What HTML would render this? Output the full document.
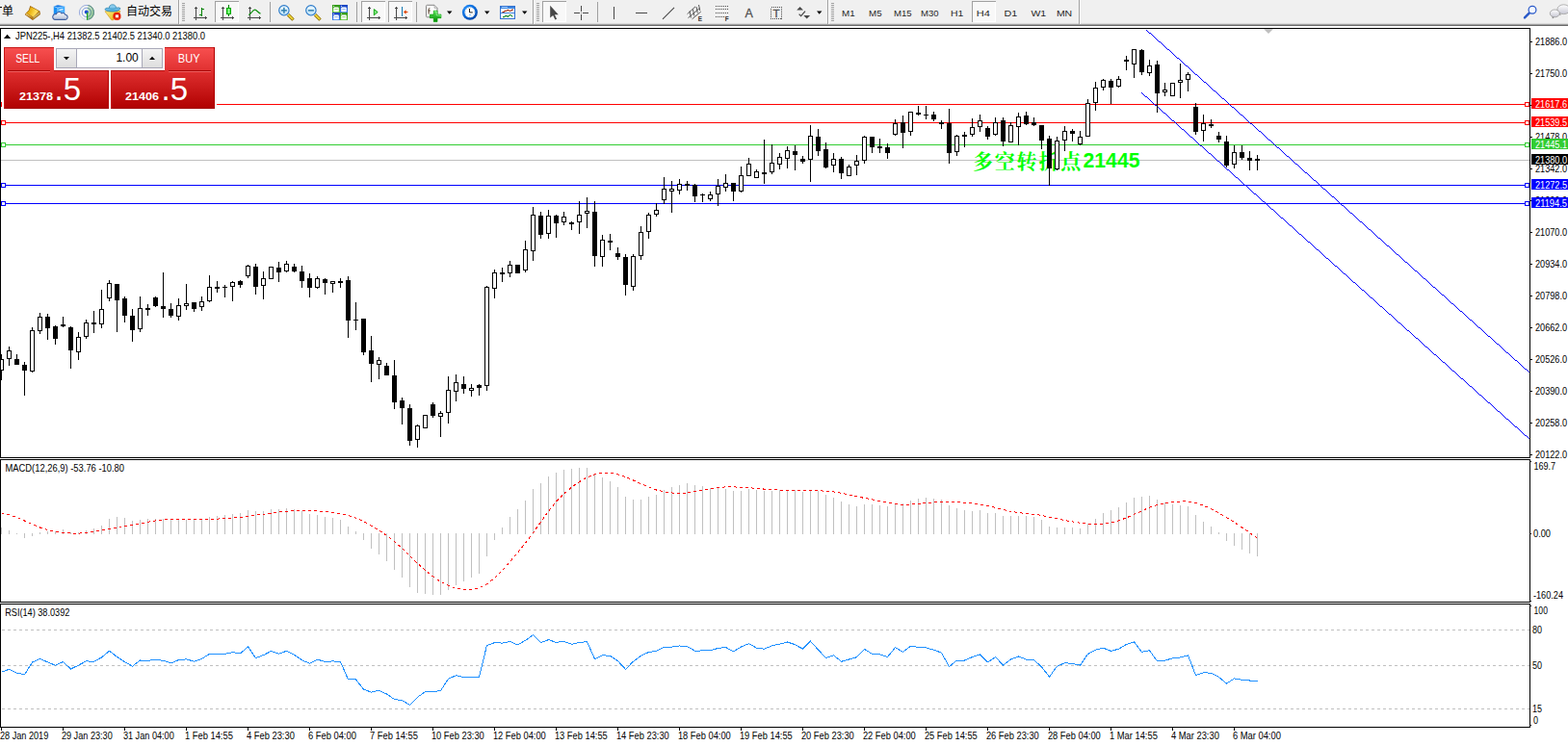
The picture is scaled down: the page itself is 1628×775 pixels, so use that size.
<!DOCTYPE html><html><head><meta charset="utf-8"><title>JPN225 H4</title><style>html,body{margin:0;padding:0;background:#fff;overflow:hidden}svg{display:block}text{white-space:pre}</style></head><body>
<svg width="1628" height="775" viewBox="0 0 1628 775" font-family="Liberation Sans, sans-serif">
<rect x="0" y="0" width="1628" height="775" fill="#fff" />
<g shape-rendering="crispEdges">
<rect x="0" y="27" width="1628" height="748" fill="#fff" />
<rect x="1" y="108" width="1587" height="1" fill="#ff0000" />
<rect x="1" y="127" width="1587" height="1" fill="#ff0000" />
<rect x="1" y="150" width="1587" height="1" fill="#32cd32" />
<rect x="1" y="166" width="1587" height="1" fill="#c0c0c0" />
<rect x="1" y="192" width="1587" height="1" fill="#0000ff" />
<rect x="1" y="211" width="1587" height="1" fill="#0000ff" />
<rect x="1.5" y="106.5" width="4" height="4" fill="#fff" stroke="#ff0000" stroke-width="1"/>
<rect x="1583.5" y="106.5" width="4" height="4" fill="#fff" stroke="#ff0000" stroke-width="1"/>
<rect x="1.5" y="125.5" width="4" height="4" fill="#fff" stroke="#ff0000" stroke-width="1"/>
<rect x="1583.5" y="125.5" width="4" height="4" fill="#fff" stroke="#ff0000" stroke-width="1"/>
<rect x="1.5" y="148.5" width="4" height="4" fill="#fff" stroke="#32cd32" stroke-width="1"/>
<rect x="1583.5" y="148.5" width="4" height="4" fill="#fff" stroke="#32cd32" stroke-width="1"/>
<rect x="1.5" y="190.5" width="4" height="4" fill="#fff" stroke="#0000ff" stroke-width="1"/>
<rect x="1583.5" y="190.5" width="4" height="4" fill="#fff" stroke="#0000ff" stroke-width="1"/>
<rect x="1.5" y="209.5" width="4" height="4" fill="#fff" stroke="#0000ff" stroke-width="1"/>
<rect x="1583.5" y="209.5" width="4" height="4" fill="#fff" stroke="#0000ff" stroke-width="1"/>
<path d="M1190 31.5h1M1191 32.5h1M1192 33.5h1M1193 34.5h2M1195 35.5h1M1196 36.5h1M1197 37.5h1M1198 38.5h1M1199 39.5h1M1200 40.5h1M1201 41.5h1M1202 42.5h1M1203 43.5h2M1205 44.5h1M1206 45.5h1M1207 46.5h1M1208 47.5h1M1209 48.5h1M1210 49.5h1M1211 50.5h1M1212 51.5h2M1214 52.5h1M1215 53.5h1M1216 54.5h1M1217 55.5h1M1218 56.5h1M1219 57.5h1M1220 58.5h1M1221 59.5h1M1222 60.5h2M1224 61.5h1M1225 62.5h1M1226 63.5h1M1227 64.5h1M1228 65.5h1M1229 66.5h1M1230 67.5h1M1231 68.5h2M1233 69.5h1M1234 70.5h1M1235 71.5h1M1236 72.5h1M1237 73.5h1M1238 74.5h1M1239 75.5h1M1240 76.5h1M1241 77.5h2M1243 78.5h1M1244 79.5h1M1245 80.5h1M1246 81.5h1M1247 82.5h1M1248 83.5h1M1249 84.5h1M1250 85.5h2M1252 86.5h1M1253 87.5h1M1254 88.5h1M1255 89.5h1M1256 90.5h1M1257 91.5h1M1258 92.5h1M1259 93.5h1M1260 94.5h2M1262 95.5h1M1263 96.5h1M1264 97.5h1M1265 98.5h1M1266 99.5h1M1267 100.5h1M1268 101.5h1M1269 102.5h2M1271 103.5h1M1272 104.5h1M1273 105.5h1M1274 106.5h1M1275 107.5h1M1276 108.5h1M1277 109.5h1M1278 110.5h1M1279 111.5h2M1281 112.5h1M1282 113.5h1M1283 114.5h1M1284 115.5h1M1285 116.5h1M1286 117.5h1M1287 118.5h1M1288 119.5h2M1290 120.5h1M1291 121.5h1M1292 122.5h1M1293 123.5h1M1294 124.5h1M1295 125.5h1M1296 126.5h1M1297 127.5h1M1298 128.5h2M1300 129.5h1M1301 130.5h1M1302 131.5h1M1303 132.5h1M1304 133.5h1M1305 134.5h1M1306 135.5h1M1307 136.5h2M1309 137.5h1M1310 138.5h1M1311 139.5h1M1312 140.5h1M1313 141.5h1M1314 142.5h1M1315 143.5h1M1316 144.5h1M1317 145.5h2M1319 146.5h1M1320 147.5h1M1321 148.5h1M1322 149.5h1M1323 150.5h1M1324 151.5h1M1325 152.5h1M1326 153.5h2M1328 154.5h1M1329 155.5h1M1330 156.5h1M1331 157.5h1M1332 158.5h1M1333 159.5h1M1334 160.5h1M1335 161.5h1M1336 162.5h2M1338 163.5h1M1339 164.5h1M1340 165.5h1M1341 166.5h1M1342 167.5h1M1343 168.5h1M1344 169.5h1M1345 170.5h2M1347 171.5h1M1348 172.5h1M1349 173.5h1M1350 174.5h1M1351 175.5h1M1352 176.5h1M1353 177.5h1M1354 178.5h1M1355 179.5h2M1357 180.5h1M1358 181.5h1M1359 182.5h1M1360 183.5h1M1361 184.5h1M1362 185.5h1M1363 186.5h1M1364 187.5h2M1366 188.5h1M1367 189.5h1M1368 190.5h1M1369 191.5h1M1370 192.5h1M1371 193.5h1M1372 194.5h1M1373 195.5h1M1374 196.5h2M1376 197.5h1M1377 198.5h1M1378 199.5h1M1379 200.5h1M1380 201.5h1M1381 202.5h1M1382 203.5h1M1383 204.5h2M1385 205.5h1M1386 206.5h1M1387 207.5h1M1388 208.5h1M1389 209.5h1M1390 210.5h1M1391 211.5h1M1392 212.5h1M1393 213.5h2M1395 214.5h1M1396 215.5h1M1397 216.5h1M1398 217.5h1M1399 218.5h1M1400 219.5h1M1401 220.5h1M1402 221.5h2M1404 222.5h1M1405 223.5h1M1406 224.5h1M1407 225.5h1M1408 226.5h1M1409 227.5h1M1410 228.5h1M1411 229.5h1M1412 230.5h2M1414 231.5h1M1415 232.5h1M1416 233.5h1M1417 234.5h1M1418 235.5h1M1419 236.5h1M1420 237.5h1M1421 238.5h2M1423 239.5h1M1424 240.5h1M1425 241.5h1M1426 242.5h1M1427 243.5h1M1428 244.5h1M1429 245.5h1M1430 246.5h1M1431 247.5h2M1433 248.5h1M1434 249.5h1M1435 250.5h1M1436 251.5h1M1437 252.5h1M1438 253.5h1M1439 254.5h1M1440 255.5h2M1442 256.5h1M1443 257.5h1M1444 258.5h1M1445 259.5h1M1446 260.5h1M1447 261.5h1M1448 262.5h1M1449 263.5h1M1450 264.5h2M1452 265.5h1M1453 266.5h1M1454 267.5h1M1455 268.5h1M1456 269.5h1M1457 270.5h1M1458 271.5h1M1459 272.5h2M1461 273.5h1M1462 274.5h1M1463 275.5h1M1464 276.5h1M1465 277.5h1M1466 278.5h1M1467 279.5h1M1468 280.5h1M1469 281.5h2M1471 282.5h1M1472 283.5h1M1473 284.5h1M1474 285.5h1M1475 286.5h1M1476 287.5h1M1477 288.5h1M1478 289.5h2M1480 290.5h1M1481 291.5h1M1482 292.5h1M1483 293.5h1M1484 294.5h1M1485 295.5h1M1486 296.5h1M1487 297.5h1M1488 298.5h2M1490 299.5h1M1491 300.5h1M1492 301.5h1M1493 302.5h1M1494 303.5h1M1495 304.5h1M1496 305.5h1M1497 306.5h2M1499 307.5h1M1500 308.5h1M1501 309.5h1M1502 310.5h1M1503 311.5h1M1504 312.5h1M1505 313.5h1M1506 314.5h1M1507 315.5h2M1509 316.5h1M1510 317.5h1M1511 318.5h1M1512 319.5h1M1513 320.5h1M1514 321.5h1M1515 322.5h1M1516 323.5h2M1518 324.5h1M1519 325.5h1M1520 326.5h1M1521 327.5h1M1522 328.5h1M1523 329.5h1M1524 330.5h1M1525 331.5h1M1526 332.5h2M1528 333.5h1M1529 334.5h1M1530 335.5h1M1531 336.5h1M1532 337.5h1M1533 338.5h1M1534 339.5h1M1535 340.5h2M1537 341.5h1M1538 342.5h1M1539 343.5h1M1540 344.5h1M1541 345.5h1M1542 346.5h1M1543 347.5h1M1544 348.5h1M1545 349.5h2M1547 350.5h1M1548 351.5h1M1549 352.5h1M1550 353.5h1M1551 354.5h1M1552 355.5h1M1553 356.5h1M1554 357.5h2M1556 358.5h1M1557 359.5h1M1558 360.5h1M1559 361.5h1M1560 362.5h1M1561 363.5h1M1562 364.5h1M1563 365.5h1M1564 366.5h2M1566 367.5h1M1567 368.5h1M1568 369.5h1M1569 370.5h1M1570 371.5h1M1571 372.5h1M1572 373.5h1M1573 374.5h2M1575 375.5h1M1576 376.5h1M1577 377.5h1M1578 378.5h1M1579 379.5h1M1580 380.5h1M1581 381.5h1M1582 382.5h1M1583 383.5h2M1585 384.5h1M1586 385.5h1M1587 386.5h1M1185 96.5h1M1186 97.5h1M1187 98.5h1M1188 99.5h1M1189 100.5h2M1191 101.5h1M1192 102.5h1M1193 103.5h1M1194 104.5h1M1195 105.5h1M1196 106.5h1M1197 107.5h1M1198 108.5h1M1199 109.5h2M1201 110.5h1M1202 111.5h1M1203 112.5h1M1204 113.5h1M1205 114.5h1M1206 115.5h1M1207 116.5h1M1208 117.5h2M1210 118.5h1M1211 119.5h1M1212 120.5h1M1213 121.5h1M1214 122.5h1M1215 123.5h1M1216 124.5h1M1217 125.5h2M1219 126.5h1M1220 127.5h1M1221 128.5h1M1222 129.5h1M1223 130.5h1M1224 131.5h1M1225 132.5h1M1226 133.5h1M1227 134.5h2M1229 135.5h1M1230 136.5h1M1231 137.5h1M1232 138.5h1M1233 139.5h1M1234 140.5h1M1235 141.5h1M1236 142.5h2M1238 143.5h1M1239 144.5h1M1240 145.5h1M1241 146.5h1M1242 147.5h1M1243 148.5h1M1244 149.5h1M1245 150.5h1M1246 151.5h2M1248 152.5h1M1249 153.5h1M1250 154.5h1M1251 155.5h1M1252 156.5h1M1253 157.5h1M1254 158.5h1M1255 159.5h2M1257 160.5h1M1258 161.5h1M1259 162.5h1M1260 163.5h1M1261 164.5h1M1262 165.5h1M1263 166.5h1M1264 167.5h2M1266 168.5h1M1267 169.5h1M1268 170.5h1M1269 171.5h1M1270 172.5h1M1271 173.5h1M1272 174.5h1M1273 175.5h1M1274 176.5h2M1276 177.5h1M1277 178.5h1M1278 179.5h1M1279 180.5h1M1280 181.5h1M1281 182.5h1M1282 183.5h1M1283 184.5h2M1285 185.5h1M1286 186.5h1M1287 187.5h1M1288 188.5h1M1289 189.5h1M1290 190.5h1M1291 191.5h1M1292 192.5h2M1294 193.5h1M1295 194.5h1M1296 195.5h1M1297 196.5h1M1298 197.5h1M1299 198.5h1M1300 199.5h1M1301 200.5h1M1302 201.5h2M1304 202.5h1M1305 203.5h1M1306 204.5h1M1307 205.5h1M1308 206.5h1M1309 207.5h1M1310 208.5h1M1311 209.5h2M1313 210.5h1M1314 211.5h1M1315 212.5h1M1316 213.5h1M1317 214.5h1M1318 215.5h1M1319 216.5h1M1320 217.5h2M1322 218.5h1M1323 219.5h1M1324 220.5h1M1325 221.5h1M1326 222.5h1M1327 223.5h1M1328 224.5h1M1329 225.5h1M1330 226.5h2M1332 227.5h1M1333 228.5h1M1334 229.5h1M1335 230.5h1M1336 231.5h1M1337 232.5h1M1338 233.5h1M1339 234.5h2M1341 235.5h1M1342 236.5h1M1343 237.5h1M1344 238.5h1M1345 239.5h1M1346 240.5h1M1347 241.5h1M1348 242.5h1M1349 243.5h2M1351 244.5h1M1352 245.5h1M1353 246.5h1M1354 247.5h1M1355 248.5h1M1356 249.5h1M1357 250.5h1M1358 251.5h2M1360 252.5h1M1361 253.5h1M1362 254.5h1M1363 255.5h1M1364 256.5h1M1365 257.5h1M1366 258.5h1M1367 259.5h2M1369 260.5h1M1370 261.5h1M1371 262.5h1M1372 263.5h1M1373 264.5h1M1374 265.5h1M1375 266.5h1M1376 267.5h1M1377 268.5h2M1379 269.5h1M1380 270.5h1M1381 271.5h1M1382 272.5h1M1383 273.5h1M1384 274.5h1M1385 275.5h1M1386 276.5h2M1388 277.5h1M1389 278.5h1M1390 279.5h1M1391 280.5h1M1392 281.5h1M1393 282.5h1M1394 283.5h1M1395 284.5h2M1397 285.5h1M1398 286.5h1M1399 287.5h1M1400 288.5h1M1401 289.5h1M1402 290.5h1M1403 291.5h1M1404 292.5h1M1405 293.5h2M1407 294.5h1M1408 295.5h1M1409 296.5h1M1410 297.5h1M1411 298.5h1M1412 299.5h1M1413 300.5h1M1414 301.5h2M1416 302.5h1M1417 303.5h1M1418 304.5h1M1419 305.5h1M1420 306.5h1M1421 307.5h1M1422 308.5h1M1423 309.5h2M1425 310.5h1M1426 311.5h1M1427 312.5h1M1428 313.5h1M1429 314.5h1M1430 315.5h1M1431 316.5h1M1432 317.5h1M1433 318.5h2M1435 319.5h1M1436 320.5h1M1437 321.5h1M1438 322.5h1M1439 323.5h1M1440 324.5h1M1441 325.5h1M1442 326.5h2M1444 327.5h1M1445 328.5h1M1446 329.5h1M1447 330.5h1M1448 331.5h1M1449 332.5h1M1450 333.5h1M1451 334.5h1M1452 335.5h2M1454 336.5h1M1455 337.5h1M1456 338.5h1M1457 339.5h1M1458 340.5h1M1459 341.5h1M1460 342.5h1M1461 343.5h2M1463 344.5h1M1464 345.5h1M1465 346.5h1M1466 347.5h1M1467 348.5h1M1468 349.5h1M1469 350.5h1M1470 351.5h2M1472 352.5h1M1473 353.5h1M1474 354.5h1M1475 355.5h1M1476 356.5h1M1477 357.5h1M1478 358.5h1M1479 359.5h1M1480 360.5h2M1482 361.5h1M1483 362.5h1M1484 363.5h1M1485 364.5h1M1486 365.5h1M1487 366.5h1M1488 367.5h1M1489 368.5h2M1491 369.5h1M1492 370.5h1M1493 371.5h1M1494 372.5h1M1495 373.5h1M1496 374.5h1M1497 375.5h1M1498 376.5h2M1500 377.5h1M1501 378.5h1M1502 379.5h1M1503 380.5h1M1504 381.5h1M1505 382.5h1M1506 383.5h1M1507 384.5h1M1508 385.5h2M1510 386.5h1M1511 387.5h1M1512 388.5h1M1513 389.5h1M1514 390.5h1M1515 391.5h1M1516 392.5h1M1517 393.5h2M1519 394.5h1M1520 395.5h1M1521 396.5h1M1522 397.5h1M1523 398.5h1M1524 399.5h1M1525 400.5h1M1526 401.5h2M1528 402.5h1M1529 403.5h1M1530 404.5h1M1531 405.5h1M1532 406.5h1M1533 407.5h1M1534 408.5h1M1535 409.5h1M1536 410.5h2M1538 411.5h1M1539 412.5h1M1540 413.5h1M1541 414.5h1M1542 415.5h1M1543 416.5h1M1544 417.5h1M1545 418.5h2M1547 419.5h1M1548 420.5h1M1549 421.5h1M1550 422.5h1M1551 423.5h1M1552 424.5h1M1553 425.5h1M1554 426.5h1M1555 427.5h2M1557 428.5h1M1558 429.5h1M1559 430.5h1M1560 431.5h1M1561 432.5h1M1562 433.5h1M1563 434.5h1M1564 435.5h2M1566 436.5h1M1567 437.5h1M1568 438.5h1M1569 439.5h1M1570 440.5h1M1571 441.5h1M1572 442.5h1M1573 443.5h2M1575 444.5h1M1576 445.5h1M1577 446.5h1M1578 447.5h1M1579 448.5h1M1580 449.5h1M1581 450.5h1M1582 451.5h1M1583 452.5h2M1585 453.5h1M1586 454.5h1M1587 455.5h1" stroke="#0000ff" stroke-width="1" fill="none"/>
<path d="M1312 30H1322L1317 35Z" fill="#c0c0c0" shape-rendering="auto"/>
</g>
<text x="1009.9" y="174.6" font-size="21" font-weight="bold" fill="#00ff00" font-family="Liberation Serif, Noto Serif CJK SC, serif" textLength="112.3" lengthAdjust="spacing">多空转折点</text>
<text x="1124.5" y="174" font-size="21.7" font-weight="bold" fill="#00ff00" font-family="Liberation Sans, sans-serif" textLength="59" lengthAdjust="spacingAndGlyphs">21445</text>
<g shape-rendering="crispEdges">
<rect x="1" y="368" width="1" height="27" fill="#000" />
<rect x="1" y="373" width="3" height="12" fill="#000" />
<rect x="1" y="374" width="2" height="10" fill="#fff" />
<rect x="9" y="360" width="1" height="20" fill="#000" />
<rect x="7" y="364" width="5" height="9" fill="#000" />
<rect x="8" y="365" width="3" height="7" fill="#fff" />
<rect x="17" y="368" width="1" height="11" fill="#000" />
<rect x="15" y="373" width="5" height="6" fill="#000" />
<rect x="25" y="376" width="1" height="35" fill="#000" />
<rect x="23" y="379" width="5" height="6" fill="#000" />
<rect x="33" y="340" width="1" height="47" fill="#000" />
<rect x="31" y="343" width="5" height="43" fill="#000" />
<rect x="32" y="344" width="3" height="41" fill="#fff" />
<rect x="41" y="325" width="1" height="22" fill="#000" />
<rect x="39" y="329" width="5" height="15" fill="#000" />
<rect x="40" y="330" width="3" height="13" fill="#fff" />
<rect x="49" y="326" width="1" height="27" fill="#000" />
<rect x="47" y="329" width="5" height="12" fill="#000" />
<rect x="57" y="338" width="1" height="20" fill="#000" />
<rect x="55" y="339" width="5" height="13" fill="#000" />
<rect x="65" y="329" width="1" height="11" fill="#000" />
<rect x="63" y="337" width="5" height="2" fill="#000" />
<rect x="73" y="339" width="1" height="44" fill="#000" />
<rect x="71" y="340" width="5" height="24" fill="#000" />
<rect x="81" y="345" width="1" height="29" fill="#000" />
<rect x="79" y="350" width="5" height="16" fill="#000" />
<rect x="80" y="351" width="3" height="14" fill="#fff" />
<rect x="89" y="332" width="1" height="20" fill="#000" />
<rect x="87" y="335" width="5" height="15" fill="#000" />
<rect x="88" y="336" width="3" height="13" fill="#fff" />
<rect x="97" y="323" width="1" height="23" fill="#000" />
<rect x="95" y="335" width="5" height="2" fill="#000" />
<rect x="105" y="301" width="1" height="40" fill="#000" />
<rect x="103" y="321" width="5" height="16" fill="#000" />
<rect x="104" y="322" width="3" height="14" fill="#fff" />
<rect x="113" y="291" width="1" height="22" fill="#000" />
<rect x="111" y="294" width="5" height="16" fill="#000" />
<rect x="112" y="295" width="3" height="14" fill="#fff" />
<rect x="121" y="295" width="1" height="50" fill="#000" />
<rect x="119" y="295" width="5" height="17" fill="#000" />
<rect x="129" y="308" width="1" height="27" fill="#000" />
<rect x="127" y="310" width="5" height="18" fill="#000" />
<rect x="137" y="321" width="1" height="34" fill="#000" />
<rect x="135" y="328" width="5" height="15" fill="#000" />
<rect x="145" y="308" width="1" height="37" fill="#000" />
<rect x="143" y="320" width="5" height="22" fill="#000" />
<rect x="144" y="321" width="3" height="20" fill="#fff" />
<rect x="153" y="316" width="1" height="12" fill="#000" />
<rect x="151" y="320" width="5" height="2" fill="#000" />
<rect x="161" y="308" width="1" height="11" fill="#000" />
<rect x="159" y="309" width="5" height="9" fill="#000" />
<rect x="169" y="283" width="1" height="47" fill="#000" />
<rect x="167" y="318" width="5" height="3" fill="#000" />
<rect x="177" y="315" width="1" height="15" fill="#000" />
<rect x="175" y="321" width="5" height="7" fill="#000" />
<rect x="185" y="310" width="1" height="23" fill="#000" />
<rect x="183" y="317" width="5" height="12" fill="#000" />
<rect x="184" y="318" width="3" height="10" fill="#fff" />
<rect x="193" y="295" width="1" height="27" fill="#000" />
<rect x="191" y="315" width="5" height="3" fill="#000" />
<rect x="192" y="316" width="3" height="1" fill="#fff" />
<rect x="201" y="314" width="1" height="10" fill="#000" />
<rect x="199" y="314" width="5" height="7" fill="#000" />
<rect x="209" y="308" width="1" height="15" fill="#000" />
<rect x="207" y="313" width="5" height="6" fill="#000" />
<rect x="208" y="314" width="3" height="4" fill="#fff" />
<rect x="217" y="286" width="1" height="28" fill="#000" />
<rect x="215" y="298" width="5" height="15" fill="#000" />
<rect x="216" y="299" width="3" height="13" fill="#fff" />
<rect x="225" y="292" width="1" height="12" fill="#000" />
<rect x="223" y="298" width="5" height="2" fill="#000" />
<rect x="233" y="296" width="1" height="13" fill="#000" />
<rect x="231" y="298" width="5" height="1" fill="#000" />
<rect x="241" y="292" width="1" height="21" fill="#000" />
<rect x="239" y="293" width="5" height="5" fill="#000" />
<rect x="240" y="294" width="3" height="3" fill="#fff" />
<rect x="249" y="291" width="1" height="8" fill="#000" />
<rect x="247" y="292" width="5" height="4" fill="#000" />
<rect x="257" y="275" width="1" height="14" fill="#000" />
<rect x="255" y="276" width="5" height="11" fill="#000" />
<rect x="256" y="277" width="3" height="9" fill="#fff" />
<rect x="265" y="274" width="1" height="32" fill="#000" />
<rect x="263" y="277" width="5" height="21" fill="#000" />
<rect x="273" y="282" width="1" height="29" fill="#000" />
<rect x="271" y="289" width="5" height="8" fill="#000" />
<rect x="272" y="290" width="3" height="6" fill="#fff" />
<rect x="281" y="277" width="1" height="13" fill="#000" />
<rect x="279" y="277" width="5" height="13" fill="#000" />
<rect x="280" y="278" width="3" height="11" fill="#fff" />
<rect x="289" y="272" width="1" height="21" fill="#000" />
<rect x="287" y="278" width="5" height="5" fill="#000" />
<rect x="297" y="271" width="1" height="12" fill="#000" />
<rect x="295" y="274" width="5" height="8" fill="#000" />
<rect x="296" y="275" width="3" height="6" fill="#fff" />
<rect x="305" y="274" width="1" height="9" fill="#000" />
<rect x="303" y="277" width="5" height="5" fill="#000" />
<rect x="313" y="276" width="1" height="23" fill="#000" />
<rect x="311" y="282" width="5" height="10" fill="#000" />
<rect x="321" y="284" width="1" height="25" fill="#000" />
<rect x="319" y="289" width="5" height="10" fill="#000" />
<rect x="329" y="287" width="1" height="13" fill="#000" />
<rect x="327" y="289" width="5" height="10" fill="#000" />
<rect x="328" y="290" width="3" height="8" fill="#fff" />
<rect x="337" y="289" width="1" height="17" fill="#000" />
<rect x="335" y="290" width="5" height="4" fill="#000" />
<rect x="345" y="292" width="1" height="12" fill="#000" />
<rect x="343" y="292" width="5" height="3" fill="#000" />
<rect x="344" y="293" width="3" height="1" fill="#fff" />
<rect x="353" y="289" width="1" height="10" fill="#000" />
<rect x="351" y="292" width="5" height="2" fill="#000" />
<rect x="361" y="287" width="1" height="64" fill="#000" />
<rect x="359" y="291" width="5" height="42" fill="#000" />
<rect x="369" y="314" width="1" height="29" fill="#000" />
<rect x="367" y="332" width="5" height="1" fill="#000" />
<rect x="377" y="331" width="1" height="38" fill="#000" />
<rect x="375" y="331" width="5" height="35" fill="#000" />
<rect x="385" y="349" width="1" height="48" fill="#000" />
<rect x="383" y="364" width="5" height="14" fill="#000" />
<rect x="393" y="371" width="1" height="23" fill="#000" />
<rect x="391" y="374" width="5" height="5" fill="#000" />
<rect x="392" y="375" width="3" height="3" fill="#fff" />
<rect x="401" y="377" width="1" height="13" fill="#000" />
<rect x="399" y="380" width="5" height="10" fill="#000" />
<rect x="409" y="374" width="1" height="51" fill="#000" />
<rect x="407" y="390" width="5" height="28" fill="#000" />
<rect x="417" y="413" width="1" height="28" fill="#000" />
<rect x="415" y="416" width="5" height="8" fill="#000" />
<rect x="425" y="420" width="1" height="43" fill="#000" />
<rect x="423" y="424" width="5" height="34" fill="#000" />
<rect x="433" y="441" width="1" height="24" fill="#000" />
<rect x="431" y="442" width="5" height="15" fill="#000" />
<rect x="432" y="443" width="3" height="13" fill="#fff" />
<rect x="441" y="431" width="1" height="14" fill="#000" />
<rect x="439" y="431" width="5" height="14" fill="#000" />
<rect x="440" y="432" width="3" height="12" fill="#fff" />
<rect x="449" y="418" width="1" height="16" fill="#000" />
<rect x="447" y="420" width="5" height="12" fill="#000" />
<rect x="457" y="427" width="1" height="27" fill="#000" />
<rect x="455" y="429" width="5" height="4" fill="#000" />
<rect x="456" y="430" width="3" height="2" fill="#fff" />
<rect x="465" y="391" width="1" height="49" fill="#000" />
<rect x="463" y="405" width="5" height="24" fill="#000" />
<rect x="464" y="406" width="3" height="22" fill="#fff" />
<rect x="473" y="389" width="1" height="28" fill="#000" />
<rect x="471" y="397" width="5" height="10" fill="#000" />
<rect x="472" y="398" width="3" height="8" fill="#fff" />
<rect x="481" y="391" width="1" height="18" fill="#000" />
<rect x="479" y="399" width="5" height="5" fill="#000" />
<rect x="489" y="399" width="1" height="13" fill="#000" />
<rect x="487" y="403" width="5" height="3" fill="#000" />
<rect x="488" y="404" width="3" height="1" fill="#fff" />
<rect x="497" y="399" width="1" height="12" fill="#000" />
<rect x="495" y="400" width="5" height="3" fill="#000" />
<rect x="505" y="297" width="1" height="109" fill="#000" />
<rect x="503" y="298" width="5" height="103" fill="#000" />
<rect x="504" y="299" width="3" height="101" fill="#fff" />
<rect x="513" y="280" width="1" height="30" fill="#000" />
<rect x="511" y="283" width="5" height="17" fill="#000" />
<rect x="512" y="284" width="3" height="15" fill="#fff" />
<rect x="521" y="278" width="1" height="15" fill="#000" />
<rect x="519" y="283" width="5" height="2" fill="#000" />
<rect x="529" y="271" width="1" height="17" fill="#000" />
<rect x="527" y="275" width="5" height="9" fill="#000" />
<rect x="528" y="276" width="3" height="7" fill="#fff" />
<rect x="537" y="275" width="1" height="9" fill="#000" />
<rect x="535" y="275" width="5" height="9" fill="#000" />
<rect x="545" y="250" width="1" height="33" fill="#000" />
<rect x="543" y="259" width="5" height="22" fill="#000" />
<rect x="544" y="260" width="3" height="20" fill="#fff" />
<rect x="553" y="215" width="1" height="56" fill="#000" />
<rect x="551" y="223" width="5" height="38" fill="#000" />
<rect x="552" y="224" width="3" height="36" fill="#fff" />
<rect x="561" y="220" width="1" height="28" fill="#000" />
<rect x="559" y="224" width="5" height="20" fill="#000" />
<rect x="569" y="218" width="1" height="30" fill="#000" />
<rect x="567" y="224" width="5" height="19" fill="#000" />
<rect x="568" y="225" width="3" height="17" fill="#fff" />
<rect x="577" y="223" width="1" height="24" fill="#000" />
<rect x="575" y="224" width="5" height="8" fill="#000" />
<rect x="585" y="220" width="1" height="14" fill="#000" />
<rect x="583" y="225" width="5" height="6" fill="#000" />
<rect x="584" y="226" width="3" height="4" fill="#fff" />
<rect x="593" y="230" width="1" height="9" fill="#000" />
<rect x="591" y="231" width="5" height="2" fill="#000" />
<rect x="601" y="209" width="1" height="34" fill="#000" />
<rect x="599" y="223" width="5" height="8" fill="#000" />
<rect x="600" y="224" width="3" height="6" fill="#fff" />
<rect x="609" y="205" width="1" height="32" fill="#000" />
<rect x="607" y="219" width="5" height="3" fill="#000" />
<rect x="608" y="220" width="3" height="1" fill="#fff" />
<rect x="617" y="209" width="1" height="68" fill="#000" />
<rect x="615" y="220" width="5" height="46" fill="#000" />
<rect x="625" y="244" width="1" height="33" fill="#000" />
<rect x="623" y="249" width="5" height="18" fill="#000" />
<rect x="624" y="250" width="3" height="16" fill="#fff" />
<rect x="633" y="243" width="1" height="17" fill="#000" />
<rect x="631" y="250" width="5" height="2" fill="#000" />
<rect x="641" y="257" width="1" height="13" fill="#000" />
<rect x="639" y="263" width="5" height="4" fill="#000" />
<rect x="649" y="264" width="1" height="43" fill="#000" />
<rect x="647" y="267" width="5" height="29" fill="#000" />
<rect x="657" y="264" width="1" height="38" fill="#000" />
<rect x="655" y="266" width="5" height="32" fill="#000" />
<rect x="656" y="267" width="3" height="30" fill="#fff" />
<rect x="665" y="235" width="1" height="35" fill="#000" />
<rect x="663" y="241" width="5" height="25" fill="#000" />
<rect x="664" y="242" width="3" height="23" fill="#fff" />
<rect x="673" y="221" width="1" height="27" fill="#000" />
<rect x="671" y="223" width="5" height="18" fill="#000" />
<rect x="672" y="224" width="3" height="16" fill="#fff" />
<rect x="681" y="211" width="1" height="14" fill="#000" />
<rect x="679" y="218" width="5" height="5" fill="#000" />
<rect x="680" y="219" width="3" height="3" fill="#fff" />
<rect x="689" y="184" width="1" height="28" fill="#000" />
<rect x="687" y="196" width="5" height="12" fill="#000" />
<rect x="688" y="197" width="3" height="10" fill="#fff" />
<rect x="697" y="188" width="1" height="33" fill="#000" />
<rect x="695" y="196" width="5" height="3" fill="#000" />
<rect x="696" y="197" width="3" height="1" fill="#fff" />
<rect x="705" y="186" width="1" height="16" fill="#000" />
<rect x="703" y="191" width="5" height="7" fill="#000" />
<rect x="704" y="192" width="3" height="5" fill="#fff" />
<rect x="713" y="188" width="1" height="10" fill="#000" />
<rect x="711" y="191" width="5" height="2" fill="#000" />
<rect x="721" y="191" width="1" height="19" fill="#000" />
<rect x="719" y="192" width="5" height="12" fill="#000" />
<rect x="729" y="201" width="1" height="9" fill="#000" />
<rect x="727" y="202" width="5" height="1" fill="#000" />
<rect x="737" y="199" width="1" height="10" fill="#000" />
<rect x="735" y="202" width="5" height="5" fill="#000" />
<rect x="736" y="203" width="3" height="3" fill="#fff" />
<rect x="745" y="186" width="1" height="28" fill="#000" />
<rect x="743" y="193" width="5" height="9" fill="#000" />
<rect x="744" y="194" width="3" height="7" fill="#fff" />
<rect x="753" y="181" width="1" height="18" fill="#000" />
<rect x="751" y="190" width="5" height="5" fill="#000" />
<rect x="752" y="191" width="3" height="3" fill="#fff" />
<rect x="761" y="190" width="1" height="19" fill="#000" />
<rect x="759" y="190" width="5" height="9" fill="#000" />
<rect x="769" y="173" width="1" height="27" fill="#000" />
<rect x="767" y="182" width="5" height="17" fill="#000" />
<rect x="768" y="183" width="3" height="15" fill="#fff" />
<rect x="777" y="164" width="1" height="19" fill="#000" />
<rect x="775" y="170" width="5" height="13" fill="#000" />
<rect x="776" y="171" width="3" height="11" fill="#fff" />
<rect x="785" y="176" width="1" height="9" fill="#000" />
<rect x="783" y="178" width="5" height="7" fill="#000" />
<rect x="784" y="179" width="3" height="5" fill="#fff" />
<rect x="793" y="145" width="1" height="46" fill="#000" />
<rect x="791" y="179" width="5" height="2" fill="#000" />
<rect x="801" y="150" width="1" height="31" fill="#000" />
<rect x="799" y="169" width="5" height="10" fill="#000" />
<rect x="800" y="170" width="3" height="8" fill="#fff" />
<rect x="809" y="159" width="1" height="17" fill="#000" />
<rect x="807" y="163" width="5" height="8" fill="#000" />
<rect x="808" y="164" width="3" height="6" fill="#fff" />
<rect x="817" y="152" width="1" height="23" fill="#000" />
<rect x="815" y="156" width="5" height="9" fill="#000" />
<rect x="816" y="157" width="3" height="7" fill="#fff" />
<rect x="825" y="151" width="1" height="26" fill="#000" />
<rect x="823" y="157" width="5" height="4" fill="#000" />
<rect x="833" y="162" width="1" height="8" fill="#000" />
<rect x="831" y="165" width="5" height="3" fill="#000" />
<rect x="841" y="130" width="1" height="59" fill="#000" />
<rect x="839" y="141" width="5" height="25" fill="#000" />
<rect x="840" y="142" width="3" height="23" fill="#fff" />
<rect x="849" y="134" width="1" height="28" fill="#000" />
<rect x="847" y="142" width="5" height="15" fill="#000" />
<rect x="857" y="148" width="1" height="27" fill="#000" />
<rect x="855" y="155" width="5" height="19" fill="#000" />
<rect x="865" y="159" width="1" height="20" fill="#000" />
<rect x="863" y="165" width="5" height="7" fill="#000" />
<rect x="864" y="166" width="3" height="5" fill="#fff" />
<rect x="873" y="163" width="1" height="23" fill="#000" />
<rect x="871" y="165" width="5" height="15" fill="#000" />
<rect x="881" y="171" width="1" height="12" fill="#000" />
<rect x="879" y="173" width="5" height="10" fill="#000" />
<rect x="880" y="174" width="3" height="8" fill="#fff" />
<rect x="889" y="161" width="1" height="21" fill="#000" />
<rect x="887" y="167" width="5" height="5" fill="#000" />
<rect x="888" y="168" width="3" height="3" fill="#fff" />
<rect x="897" y="141" width="1" height="29" fill="#000" />
<rect x="895" y="142" width="5" height="25" fill="#000" />
<rect x="896" y="143" width="3" height="23" fill="#fff" />
<rect x="905" y="142" width="1" height="17" fill="#000" />
<rect x="903" y="142" width="5" height="11" fill="#000" />
<rect x="913" y="144" width="1" height="15" fill="#000" />
<rect x="911" y="152" width="5" height="2" fill="#000" />
<rect x="921" y="149" width="1" height="16" fill="#000" />
<rect x="919" y="153" width="5" height="6" fill="#000" />
<rect x="929" y="124" width="1" height="17" fill="#000" />
<rect x="927" y="128" width="5" height="12" fill="#000" />
<rect x="928" y="129" width="3" height="10" fill="#fff" />
<rect x="937" y="120" width="1" height="34" fill="#000" />
<rect x="935" y="127" width="5" height="11" fill="#000" />
<rect x="945" y="116" width="1" height="25" fill="#000" />
<rect x="943" y="116" width="5" height="21" fill="#000" />
<rect x="944" y="117" width="3" height="19" fill="#fff" />
<rect x="953" y="110" width="1" height="10" fill="#000" />
<rect x="951" y="117" width="5" height="2" fill="#000" />
<rect x="961" y="110" width="1" height="14" fill="#000" />
<rect x="959" y="119" width="5" height="1" fill="#000" />
<rect x="969" y="116" width="1" height="10" fill="#000" />
<rect x="967" y="119" width="5" height="5" fill="#000" />
<rect x="977" y="125" width="1" height="9" fill="#000" />
<rect x="975" y="127" width="5" height="2" fill="#000" />
<rect x="985" y="113" width="1" height="57" fill="#000" />
<rect x="983" y="128" width="5" height="31" fill="#000" />
<rect x="993" y="140" width="1" height="22" fill="#000" />
<rect x="991" y="141" width="5" height="17" fill="#000" />
<rect x="992" y="142" width="3" height="15" fill="#fff" />
<rect x="1001" y="137" width="1" height="16" fill="#000" />
<rect x="999" y="140" width="5" height="2" fill="#000" />
<rect x="1009" y="123" width="1" height="19" fill="#000" />
<rect x="1007" y="132" width="5" height="8" fill="#000" />
<rect x="1008" y="133" width="3" height="6" fill="#fff" />
<rect x="1017" y="119" width="1" height="18" fill="#000" />
<rect x="1015" y="125" width="5" height="7" fill="#000" />
<rect x="1016" y="126" width="3" height="5" fill="#fff" />
<rect x="1025" y="131" width="1" height="14" fill="#000" />
<rect x="1023" y="133" width="5" height="9" fill="#000" />
<rect x="1033" y="122" width="1" height="19" fill="#000" />
<rect x="1031" y="127" width="5" height="13" fill="#000" />
<rect x="1032" y="128" width="3" height="11" fill="#fff" />
<rect x="1041" y="122" width="1" height="30" fill="#000" />
<rect x="1039" y="125" width="5" height="22" fill="#000" />
<rect x="1049" y="127" width="1" height="21" fill="#000" />
<rect x="1047" y="130" width="5" height="18" fill="#000" />
<rect x="1048" y="131" width="3" height="16" fill="#fff" />
<rect x="1057" y="117" width="1" height="34" fill="#000" />
<rect x="1055" y="121" width="5" height="11" fill="#000" />
<rect x="1056" y="122" width="3" height="9" fill="#fff" />
<rect x="1065" y="116" width="1" height="14" fill="#000" />
<rect x="1063" y="120" width="5" height="9" fill="#000" />
<rect x="1073" y="122" width="1" height="9" fill="#000" />
<rect x="1071" y="127" width="5" height="3" fill="#000" />
<rect x="1081" y="130" width="1" height="25" fill="#000" />
<rect x="1079" y="130" width="5" height="16" fill="#000" />
<rect x="1089" y="141" width="1" height="52" fill="#000" />
<rect x="1087" y="144" width="5" height="31" fill="#000" />
<rect x="1097" y="142" width="1" height="35" fill="#000" />
<rect x="1095" y="146" width="5" height="30" fill="#000" />
<rect x="1096" y="147" width="3" height="28" fill="#fff" />
<rect x="1105" y="131" width="1" height="26" fill="#000" />
<rect x="1103" y="136" width="5" height="10" fill="#000" />
<rect x="1104" y="137" width="3" height="8" fill="#fff" />
<rect x="1113" y="134" width="1" height="13" fill="#000" />
<rect x="1111" y="136" width="5" height="3" fill="#000" />
<rect x="1121" y="136" width="1" height="15" fill="#000" />
<rect x="1119" y="142" width="5" height="8" fill="#000" />
<rect x="1120" y="143" width="3" height="6" fill="#fff" />
<rect x="1129" y="103" width="1" height="39" fill="#000" />
<rect x="1127" y="107" width="5" height="35" fill="#000" />
<rect x="1128" y="108" width="3" height="33" fill="#fff" />
<rect x="1137" y="85" width="1" height="30" fill="#000" />
<rect x="1135" y="91" width="5" height="16" fill="#000" />
<rect x="1136" y="92" width="3" height="14" fill="#fff" />
<rect x="1145" y="82" width="1" height="12" fill="#000" />
<rect x="1143" y="83" width="5" height="8" fill="#000" />
<rect x="1144" y="84" width="3" height="6" fill="#fff" />
<rect x="1153" y="82" width="1" height="26" fill="#000" />
<rect x="1151" y="84" width="5" height="7" fill="#000" />
<rect x="1161" y="79" width="1" height="12" fill="#000" />
<rect x="1159" y="82" width="5" height="8" fill="#000" />
<rect x="1160" y="83" width="3" height="6" fill="#fff" />
<rect x="1169" y="58" width="1" height="15" fill="#000" />
<rect x="1167" y="62" width="5" height="2" fill="#000" />
<rect x="1177" y="51" width="1" height="30" fill="#000" />
<rect x="1175" y="51" width="5" height="16" fill="#000" />
<rect x="1176" y="52" width="3" height="14" fill="#fff" />
<rect x="1185" y="51" width="1" height="27" fill="#000" />
<rect x="1183" y="52" width="5" height="23" fill="#000" />
<rect x="1193" y="62" width="1" height="17" fill="#000" />
<rect x="1191" y="68" width="5" height="8" fill="#000" />
<rect x="1192" y="69" width="3" height="6" fill="#fff" />
<rect x="1201" y="63" width="1" height="54" fill="#000" />
<rect x="1199" y="67" width="5" height="30" fill="#000" />
<rect x="1209" y="86" width="1" height="14" fill="#000" />
<rect x="1207" y="93" width="5" height="3" fill="#000" />
<rect x="1208" y="94" width="3" height="1" fill="#fff" />
<rect x="1217" y="86" width="1" height="14" fill="#000" />
<rect x="1215" y="86" width="5" height="14" fill="#000" />
<rect x="1216" y="87" width="3" height="12" fill="#fff" />
<rect x="1225" y="66" width="1" height="36" fill="#000" />
<rect x="1223" y="83" width="5" height="3" fill="#000" />
<rect x="1224" y="84" width="3" height="1" fill="#fff" />
<rect x="1233" y="75" width="1" height="20" fill="#000" />
<rect x="1231" y="77" width="5" height="6" fill="#000" />
<rect x="1232" y="78" width="3" height="4" fill="#fff" />
<rect x="1241" y="107" width="1" height="33" fill="#000" />
<rect x="1239" y="111" width="5" height="26" fill="#000" />
<rect x="1249" y="119" width="1" height="28" fill="#000" />
<rect x="1247" y="128" width="5" height="8" fill="#000" />
<rect x="1248" y="129" width="3" height="6" fill="#fff" />
<rect x="1257" y="124" width="1" height="9" fill="#000" />
<rect x="1255" y="129" width="5" height="2" fill="#000" />
<rect x="1265" y="137" width="1" height="11" fill="#000" />
<rect x="1263" y="141" width="5" height="4" fill="#000" />
<rect x="1273" y="141" width="1" height="33" fill="#000" />
<rect x="1271" y="147" width="5" height="25" fill="#000" />
<rect x="1281" y="151" width="1" height="24" fill="#000" />
<rect x="1279" y="158" width="5" height="13" fill="#000" />
<rect x="1280" y="159" width="3" height="11" fill="#fff" />
<rect x="1289" y="151" width="1" height="15" fill="#000" />
<rect x="1287" y="158" width="5" height="6" fill="#000" />
<rect x="1297" y="157" width="1" height="20" fill="#000" />
<rect x="1295" y="164" width="5" height="3" fill="#000" />
<rect x="1305" y="161" width="1" height="16" fill="#000" />
<rect x="1303" y="165" width="5" height="2" fill="#000" />
</g>
<g shape-rendering="crispEdges">
<rect x="1" y="548" width="1" height="7" fill="#c0c0c0" />
<rect x="9" y="551" width="1" height="4" fill="#c0c0c0" />
<rect x="17" y="554" width="1" height="1" fill="#c0c0c0" />
<rect x="25" y="554" width="1" height="5" fill="#c0c0c0" />
<rect x="33" y="554" width="1" height="3" fill="#c0c0c0" />
<rect x="41" y="553" width="1" height="2" fill="#c0c0c0" />
<rect x="49" y="552" width="1" height="3" fill="#c0c0c0" />
<rect x="57" y="552" width="1" height="3" fill="#c0c0c0" />
<rect x="65" y="550" width="1" height="5" fill="#c0c0c0" />
<rect x="73" y="553" width="1" height="2" fill="#c0c0c0" />
<rect x="81" y="553" width="1" height="2" fill="#c0c0c0" />
<rect x="89" y="551" width="1" height="4" fill="#c0c0c0" />
<rect x="97" y="549" width="1" height="6" fill="#c0c0c0" />
<rect x="105" y="546" width="1" height="9" fill="#c0c0c0" />
<rect x="113" y="539" width="1" height="16" fill="#c0c0c0" />
<rect x="121" y="537" width="1" height="18" fill="#c0c0c0" />
<rect x="129" y="538" width="1" height="17" fill="#c0c0c0" />
<rect x="137" y="541" width="1" height="14" fill="#c0c0c0" />
<rect x="145" y="540" width="1" height="15" fill="#c0c0c0" />
<rect x="153" y="539" width="1" height="16" fill="#c0c0c0" />
<rect x="161" y="539" width="1" height="16" fill="#c0c0c0" />
<rect x="169" y="539" width="1" height="16" fill="#c0c0c0" />
<rect x="177" y="540" width="1" height="15" fill="#c0c0c0" />
<rect x="185" y="540" width="1" height="15" fill="#c0c0c0" />
<rect x="193" y="540" width="1" height="15" fill="#c0c0c0" />
<rect x="201" y="540" width="1" height="15" fill="#c0c0c0" />
<rect x="209" y="540" width="1" height="15" fill="#c0c0c0" />
<rect x="217" y="537" width="1" height="18" fill="#c0c0c0" />
<rect x="225" y="536" width="1" height="19" fill="#c0c0c0" />
<rect x="233" y="535" width="1" height="20" fill="#c0c0c0" />
<rect x="241" y="534" width="1" height="21" fill="#c0c0c0" />
<rect x="249" y="533" width="1" height="22" fill="#c0c0c0" />
<rect x="257" y="530" width="1" height="25" fill="#c0c0c0" />
<rect x="265" y="531" width="1" height="24" fill="#c0c0c0" />
<rect x="273" y="531" width="1" height="24" fill="#c0c0c0" />
<rect x="281" y="529" width="1" height="26" fill="#c0c0c0" />
<rect x="289" y="529" width="1" height="26" fill="#c0c0c0" />
<rect x="297" y="528" width="1" height="27" fill="#c0c0c0" />
<rect x="305" y="529" width="1" height="26" fill="#c0c0c0" />
<rect x="313" y="531" width="1" height="24" fill="#c0c0c0" />
<rect x="321" y="534" width="1" height="21" fill="#c0c0c0" />
<rect x="329" y="535" width="1" height="20" fill="#c0c0c0" />
<rect x="337" y="537" width="1" height="18" fill="#c0c0c0" />
<rect x="345" y="538" width="1" height="17" fill="#c0c0c0" />
<rect x="353" y="540" width="1" height="15" fill="#c0c0c0" />
<rect x="361" y="547" width="1" height="8" fill="#c0c0c0" />
<rect x="369" y="552" width="1" height="3" fill="#c0c0c0" />
<rect x="377" y="554" width="1" height="7" fill="#c0c0c0" />
<rect x="385" y="554" width="1" height="16" fill="#c0c0c0" />
<rect x="393" y="554" width="1" height="22" fill="#c0c0c0" />
<rect x="401" y="554" width="1" height="29" fill="#c0c0c0" />
<rect x="409" y="554" width="1" height="38" fill="#c0c0c0" />
<rect x="417" y="554" width="1" height="46" fill="#c0c0c0" />
<rect x="425" y="554" width="1" height="56" fill="#c0c0c0" />
<rect x="433" y="554" width="1" height="62" fill="#c0c0c0" />
<rect x="441" y="554" width="1" height="63" fill="#c0c0c0" />
<rect x="449" y="554" width="1" height="64" fill="#c0c0c0" />
<rect x="457" y="554" width="1" height="64" fill="#c0c0c0" />
<rect x="465" y="554" width="1" height="59" fill="#c0c0c0" />
<rect x="473" y="554" width="1" height="54" fill="#c0c0c0" />
<rect x="481" y="554" width="1" height="50" fill="#c0c0c0" />
<rect x="489" y="554" width="1" height="46" fill="#c0c0c0" />
<rect x="497" y="554" width="1" height="42" fill="#c0c0c0" />
<rect x="505" y="554" width="1" height="24" fill="#c0c0c0" />
<rect x="513" y="554" width="1" height="7" fill="#c0c0c0" />
<rect x="521" y="548" width="1" height="7" fill="#c0c0c0" />
<rect x="529" y="537" width="1" height="18" fill="#c0c0c0" />
<rect x="537" y="529" width="1" height="26" fill="#c0c0c0" />
<rect x="545" y="520" width="1" height="35" fill="#c0c0c0" />
<rect x="553" y="508" width="1" height="47" fill="#c0c0c0" />
<rect x="561" y="502" width="1" height="53" fill="#c0c0c0" />
<rect x="569" y="495" width="1" height="60" fill="#c0c0c0" />
<rect x="577" y="491" width="1" height="64" fill="#c0c0c0" />
<rect x="585" y="488" width="1" height="67" fill="#c0c0c0" />
<rect x="593" y="487" width="1" height="68" fill="#c0c0c0" />
<rect x="601" y="486" width="1" height="69" fill="#c0c0c0" />
<rect x="609" y="486" width="1" height="69" fill="#c0c0c0" />
<rect x="617" y="493" width="1" height="62" fill="#c0c0c0" />
<rect x="625" y="496" width="1" height="59" fill="#c0c0c0" />
<rect x="633" y="500" width="1" height="55" fill="#c0c0c0" />
<rect x="641" y="506" width="1" height="49" fill="#c0c0c0" />
<rect x="649" y="516" width="1" height="39" fill="#c0c0c0" />
<rect x="657" y="519" width="1" height="36" fill="#c0c0c0" />
<rect x="665" y="519" width="1" height="36" fill="#c0c0c0" />
<rect x="673" y="516" width="1" height="39" fill="#c0c0c0" />
<rect x="681" y="514" width="1" height="41" fill="#c0c0c0" />
<rect x="689" y="509" width="1" height="46" fill="#c0c0c0" />
<rect x="697" y="506" width="1" height="49" fill="#c0c0c0" />
<rect x="705" y="504" width="1" height="51" fill="#c0c0c0" />
<rect x="713" y="502" width="1" height="53" fill="#c0c0c0" />
<rect x="721" y="504" width="1" height="51" fill="#c0c0c0" />
<rect x="729" y="505" width="1" height="50" fill="#c0c0c0" />
<rect x="737" y="507" width="1" height="48" fill="#c0c0c0" />
<rect x="745" y="507" width="1" height="48" fill="#c0c0c0" />
<rect x="753" y="508" width="1" height="47" fill="#c0c0c0" />
<rect x="761" y="510" width="1" height="45" fill="#c0c0c0" />
<rect x="769" y="510" width="1" height="45" fill="#c0c0c0" />
<rect x="777" y="508" width="1" height="47" fill="#c0c0c0" />
<rect x="785" y="509" width="1" height="46" fill="#c0c0c0" />
<rect x="793" y="510" width="1" height="45" fill="#c0c0c0" />
<rect x="801" y="510" width="1" height="45" fill="#c0c0c0" />
<rect x="809" y="509" width="1" height="46" fill="#c0c0c0" />
<rect x="817" y="509" width="1" height="46" fill="#c0c0c0" />
<rect x="825" y="509" width="1" height="46" fill="#c0c0c0" />
<rect x="833" y="511" width="1" height="44" fill="#c0c0c0" />
<rect x="841" y="509" width="1" height="46" fill="#c0c0c0" />
<rect x="849" y="510" width="1" height="45" fill="#c0c0c0" />
<rect x="857" y="514" width="1" height="41" fill="#c0c0c0" />
<rect x="865" y="517" width="1" height="38" fill="#c0c0c0" />
<rect x="873" y="521" width="1" height="34" fill="#c0c0c0" />
<rect x="881" y="524" width="1" height="31" fill="#c0c0c0" />
<rect x="889" y="526" width="1" height="29" fill="#c0c0c0" />
<rect x="897" y="524" width="1" height="31" fill="#c0c0c0" />
<rect x="905" y="524" width="1" height="31" fill="#c0c0c0" />
<rect x="913" y="525" width="1" height="30" fill="#c0c0c0" />
<rect x="921" y="526" width="1" height="29" fill="#c0c0c0" />
<rect x="929" y="524" width="1" height="31" fill="#c0c0c0" />
<rect x="937" y="523" width="1" height="32" fill="#c0c0c0" />
<rect x="945" y="520" width="1" height="35" fill="#c0c0c0" />
<rect x="953" y="518" width="1" height="37" fill="#c0c0c0" />
<rect x="961" y="517" width="1" height="38" fill="#c0c0c0" />
<rect x="969" y="518" width="1" height="37" fill="#c0c0c0" />
<rect x="977" y="519" width="1" height="36" fill="#c0c0c0" />
<rect x="985" y="525" width="1" height="30" fill="#c0c0c0" />
<rect x="993" y="528" width="1" height="27" fill="#c0c0c0" />
<rect x="1001" y="530" width="1" height="25" fill="#c0c0c0" />
<rect x="1009" y="531" width="1" height="24" fill="#c0c0c0" />
<rect x="1017" y="530" width="1" height="25" fill="#c0c0c0" />
<rect x="1025" y="533" width="1" height="22" fill="#c0c0c0" />
<rect x="1033" y="533" width="1" height="22" fill="#c0c0c0" />
<rect x="1041" y="536" width="1" height="19" fill="#c0c0c0" />
<rect x="1049" y="536" width="1" height="19" fill="#c0c0c0" />
<rect x="1057" y="536" width="1" height="19" fill="#c0c0c0" />
<rect x="1065" y="536" width="1" height="19" fill="#c0c0c0" />
<rect x="1073" y="537" width="1" height="18" fill="#c0c0c0" />
<rect x="1081" y="540" width="1" height="15" fill="#c0c0c0" />
<rect x="1089" y="547" width="1" height="8" fill="#c0c0c0" />
<rect x="1097" y="548" width="1" height="7" fill="#c0c0c0" />
<rect x="1105" y="548" width="1" height="7" fill="#c0c0c0" />
<rect x="1113" y="548" width="1" height="7" fill="#c0c0c0" />
<rect x="1121" y="549" width="1" height="6" fill="#c0c0c0" />
<rect x="1129" y="544" width="1" height="11" fill="#c0c0c0" />
<rect x="1137" y="539" width="1" height="16" fill="#c0c0c0" />
<rect x="1145" y="533" width="1" height="22" fill="#c0c0c0" />
<rect x="1153" y="530" width="1" height="25" fill="#c0c0c0" />
<rect x="1161" y="527" width="1" height="28" fill="#c0c0c0" />
<rect x="1169" y="522" width="1" height="33" fill="#c0c0c0" />
<rect x="1177" y="517" width="1" height="38" fill="#c0c0c0" />
<rect x="1185" y="516" width="1" height="39" fill="#c0c0c0" />
<rect x="1193" y="515" width="1" height="40" fill="#c0c0c0" />
<rect x="1201" y="519" width="1" height="36" fill="#c0c0c0" />
<rect x="1209" y="522" width="1" height="33" fill="#c0c0c0" />
<rect x="1217" y="524" width="1" height="31" fill="#c0c0c0" />
<rect x="1225" y="525" width="1" height="30" fill="#c0c0c0" />
<rect x="1233" y="526" width="1" height="29" fill="#c0c0c0" />
<rect x="1241" y="535" width="1" height="20" fill="#c0c0c0" />
<rect x="1249" y="542" width="1" height="13" fill="#c0c0c0" />
<rect x="1257" y="547" width="1" height="8" fill="#c0c0c0" />
<rect x="1265" y="553" width="1" height="2" fill="#c0c0c0" />
<rect x="1273" y="554" width="1" height="8" fill="#c0c0c0" />
<rect x="1281" y="554" width="1" height="13" fill="#c0c0c0" />
<rect x="1289" y="554" width="1" height="17" fill="#c0c0c0" />
<rect x="1297" y="554" width="1" height="21" fill="#c0c0c0" />
<rect x="1305" y="554" width="1" height="24" fill="#c0c0c0" />
<polyline points="1.5,533.6 9.5,534.9 17.5,537.4 25.5,541.0 33.5,544.7 41.5,548.0 49.5,550.5 57.5,552.5 65.5,553.5 73.5,554.0 81.5,554.1 89.5,553.5 97.5,552.3 105.5,551.0 113.5,549.5 121.5,547.9 129.5,546.3 137.5,545.2 145.5,543.8 153.5,542.3 161.5,541.0 169.5,539.8 177.5,539.2 185.5,539.3 193.5,539.6 201.5,539.8 209.5,539.7 217.5,539.5 225.5,539.1 233.5,538.7 241.5,538.1 249.5,537.3 257.5,536.2 265.5,535.2 273.5,534.2 281.5,533.0 289.5,532.1 297.5,531.2 305.5,530.5 313.5,530.2 321.5,530.3 329.5,530.9 337.5,531.5 345.5,532.3 353.5,533.5 361.5,535.4 369.5,538.1 377.5,541.8 385.5,546.2 393.5,551.0 401.5,556.4 409.5,562.6 417.5,569.6 425.5,577.5 433.5,585.2 441.5,592.6 449.5,598.9 457.5,604.3 465.5,608.4 473.5,611.1 481.5,612.4 489.5,612.4 497.5,610.9 505.5,606.7 513.5,600.4 521.5,592.6 529.5,583.5 537.5,574.0 545.5,564.2 553.5,553.4 561.5,542.4 569.5,531.0 577.5,521.2 585.5,513.0 593.5,506.2 601.5,500.6 609.5,495.8 617.5,492.8 625.5,491.5 633.5,491.4 641.5,492.7 649.5,495.5 657.5,499.0 665.5,502.5 673.5,505.9 681.5,509.0 689.5,510.9 697.5,512.0 705.5,512.4 713.5,512.0 721.5,510.6 729.5,509.0 737.5,507.6 745.5,506.6 753.5,505.9 761.5,505.9 769.5,506.3 777.5,506.7 785.5,507.4 793.5,508.1 801.5,508.7 809.5,509.0 817.5,509.2 825.5,509.3 833.5,509.4 841.5,509.4 849.5,509.6 857.5,510.3 865.5,511.0 873.5,512.3 881.5,513.9 889.5,515.8 897.5,517.4 905.5,518.9 913.5,520.7 921.5,522.4 929.5,523.5 937.5,524.2 945.5,524.1 953.5,523.4 961.5,522.5 969.5,521.8 977.5,521.3 985.5,521.3 993.5,521.4 1001.5,522.1 1009.5,522.9 1017.5,524.1 1025.5,525.7 1033.5,527.4 1041.5,529.5 1049.5,531.4 1057.5,532.6 1065.5,533.5 1073.5,534.3 1081.5,535.4 1089.5,537.2 1097.5,538.9 1105.5,540.6 1113.5,541.9 1121.5,543.3 1129.5,544.3 1137.5,544.6 1145.5,544.2 1153.5,543.1 1161.5,540.9 1169.5,537.9 1177.5,534.4 1185.5,530.9 1193.5,527.2 1201.5,524.4 1209.5,522.6 1217.5,521.6 1225.5,521.0 1233.5,520.9 1241.5,522.4 1249.5,525.2 1257.5,528.6 1265.5,532.8 1273.5,537.6 1281.5,542.6 1289.5,547.9 1297.5,553.5 1305.5,559.3" fill="none" stroke="#ff0000" stroke-width="1" stroke-dasharray="3 3"/>
<line x1="2" y1="654.5" x2="1588" y2="654.5" stroke="#c0c0c0" stroke-width="1" stroke-dasharray="3 3"/>
<line x1="2" y1="691.5" x2="1588" y2="691.5" stroke="#c0c0c0" stroke-width="1" stroke-dasharray="3 3"/>
<line x1="2" y1="736.5" x2="1588" y2="736.5" stroke="#c0c0c0" stroke-width="1" stroke-dasharray="3 3"/>
<polyline points="1.5,698.1 9.5,695.3 17.5,699.1 25.5,700.8 33.5,688.0 41.5,684.4 49.5,687.9 57.5,691.3 65.5,687.5 73.5,695.0 81.5,691.1 89.5,686.9 97.5,687.2 105.5,683.0 113.5,676.3 121.5,682.4 129.5,687.6 137.5,692.2 145.5,686.0 153.5,686.4 161.5,685.2 169.5,686.3 177.5,688.9 185.5,685.6 193.5,684.9 201.5,687.1 209.5,684.5 217.5,679.3 225.5,679.8 233.5,679.4 241.5,677.6 249.5,678.8 257.5,671.9 265.5,683.6 273.5,680.6 281.5,676.4 289.5,679.1 297.5,676.3 305.5,680.3 313.5,685.7 321.5,689.3 329.5,685.2 337.5,687.4 345.5,686.9 353.5,687.5 361.5,705.8 369.5,705.8 377.5,716.2 385.5,719.1 393.5,717.3 401.5,721.0 409.5,726.5 417.5,727.6 425.5,732.5 433.5,724.3 441.5,718.6 449.5,718.6 457.5,717.5 465.5,705.3 473.5,701.7 481.5,703.7 489.5,703.7 497.5,703.1 505.5,670.4 513.5,667.7 521.5,668.1 529.5,666.5 537.5,669.9 545.5,665.3 553.5,659.7 561.5,667.7 569.5,664.6 577.5,667.4 585.5,666.3 593.5,669.3 601.5,667.5 609.5,666.7 617.5,684.6 625.5,680.7 633.5,681.4 641.5,686.6 649.5,695.3 657.5,687.2 665.5,681.3 673.5,677.5 681.5,676.4 689.5,672.1 697.5,672.1 705.5,671.0 713.5,671.5 721.5,676.2 729.5,675.9 737.5,675.9 745.5,673.4 753.5,672.5 761.5,676.8 769.5,672.0 777.5,668.7 785.5,673.1 793.5,674.2 801.5,670.8 809.5,669.1 817.5,667.0 825.5,669.7 833.5,674.2 841.5,666.2 849.5,675.0 857.5,683.6 865.5,680.7 873.5,687.3 881.5,685.0 889.5,682.7 897.5,674.4 905.5,679.4 913.5,679.9 921.5,682.5 929.5,672.7 937.5,677.3 945.5,671.3 953.5,672.3 961.5,672.9 969.5,675.2 977.5,678.1 985.5,692.6 993.5,686.0 1001.5,686.0 1009.5,682.6 1017.5,680.0 1025.5,687.9 1033.5,682.6 1041.5,691.0 1049.5,685.0 1057.5,682.0 1065.5,685.1 1073.5,685.6 1081.5,692.8 1089.5,703.2 1097.5,692.1 1105.5,688.7 1113.5,689.5 1121.5,691.1 1129.5,679.5 1137.5,675.2 1145.5,673.2 1153.5,676.4 1161.5,674.2 1169.5,669.5 1177.5,666.7 1185.5,677.4 1193.5,675.8 1201.5,687.0 1209.5,686.1 1217.5,683.9 1225.5,682.9 1233.5,680.9 1241.5,701.6 1249.5,698.7 1257.5,699.3 1265.5,703.4 1273.5,710.1 1281.5,704.9 1289.5,706.2 1297.5,707.0 1305.5,707.0" fill="none" stroke="#1e90ff" stroke-width="1"/>
</g>
<g shape-rendering="crispEdges" fill="#000">
<rect x="0" y="29" width="1589" height="1" fill="#000" />
<rect x="0" y="29" width="1" height="447" fill="#000" />
<rect x="0" y="475" width="1589" height="1" fill="#000" />
<rect x="1588" y="29" width="1" height="447" fill="#000" />
<rect x="1588" y="477" width="1" height="149" fill="#000" />
<rect x="1588" y="627" width="1" height="129" fill="#000" />
<rect x="0" y="477" width="1589" height="1" fill="#000" />
<rect x="0" y="477" width="1" height="149" fill="#000" />
<rect x="0" y="625" width="1589" height="1" fill="#000" />
<rect x="0" y="627" width="1589" height="1" fill="#000" />
<rect x="0" y="627" width="1" height="129" fill="#000" />
<rect x="0" y="755" width="1589" height="1" fill="#000" />
</g>
<g font-family="Liberation Sans, sans-serif">
<g shape-rendering="crispEdges">
<rect x="1589" y="43" width="2" height="1" fill="#000" />
<rect x="1589" y="76" width="2" height="1" fill="#000" />
<rect x="1589" y="109" width="2" height="1" fill="#000" />
<rect x="1589" y="142" width="2" height="1" fill="#000" />
<rect x="1589" y="175" width="2" height="1" fill="#000" />
<rect x="1589" y="208" width="2" height="1" fill="#000" />
<rect x="1589" y="241" width="2" height="1" fill="#000" />
<rect x="1589" y="274" width="2" height="1" fill="#000" />
<rect x="1589" y="307" width="2" height="1" fill="#000" />
<rect x="1589" y="340" width="2" height="1" fill="#000" />
<rect x="1589" y="373" width="2" height="1" fill="#000" />
<rect x="1589" y="406" width="2" height="1" fill="#000" />
<rect x="1589" y="439" width="2" height="1" fill="#000" />
<rect x="1589" y="472" width="2" height="1" fill="#000" />
<rect x="1589" y="479" width="1" height="1" fill="#000" />
<rect x="1589" y="554" width="1" height="1" fill="#000" />
<rect x="1589" y="624" width="1" height="1" fill="#000" />
<rect x="1589" y="629" width="1" height="1" fill="#000" />
<rect x="1589" y="753" width="1" height="1" fill="#000" />
</g>
<text x="1594" y="47" font-size="10.2" fill="#000" textLength="33" lengthAdjust="spacingAndGlyphs">21886.0</text>
<text x="1594" y="80" font-size="10.2" fill="#000" textLength="33" lengthAdjust="spacingAndGlyphs">21750.0</text>
<text x="1594" y="113" font-size="10.2" fill="#000" textLength="33" lengthAdjust="spacingAndGlyphs">21614.0</text>
<text x="1594" y="146" font-size="10.2" fill="#000" textLength="33" lengthAdjust="spacingAndGlyphs">21478.0</text>
<text x="1594" y="179" font-size="10.2" fill="#000" textLength="33" lengthAdjust="spacingAndGlyphs">21342.0</text>
<text x="1594" y="212" font-size="10.2" fill="#000" textLength="33" lengthAdjust="spacingAndGlyphs">21206.0</text>
<text x="1594" y="245" font-size="10.2" fill="#000" textLength="33" lengthAdjust="spacingAndGlyphs">21070.0</text>
<text x="1594" y="278" font-size="10.2" fill="#000" textLength="33" lengthAdjust="spacingAndGlyphs">20934.0</text>
<text x="1594" y="311" font-size="10.2" fill="#000" textLength="33" lengthAdjust="spacingAndGlyphs">20798.0</text>
<text x="1594" y="344" font-size="10.2" fill="#000" textLength="33" lengthAdjust="spacingAndGlyphs">20662.0</text>
<text x="1594" y="377" font-size="10.2" fill="#000" textLength="33" lengthAdjust="spacingAndGlyphs">20526.0</text>
<text x="1594" y="410" font-size="10.2" fill="#000" textLength="33" lengthAdjust="spacingAndGlyphs">20390.0</text>
<text x="1594" y="443" font-size="10.2" fill="#000" textLength="33" lengthAdjust="spacingAndGlyphs">20258.0</text>
<text x="1594" y="476" font-size="10.2" fill="#000" textLength="33" lengthAdjust="spacingAndGlyphs">20122.0</text>
<rect x="1590" y="102" width="38" height="11" fill="#ff0000" shape-rendering="crispEdges"/>
<text x="1594" y="112" font-size="10.2" fill="#fff" textLength="33" lengthAdjust="spacingAndGlyphs">21617.6</text>
<rect x="1590" y="121" width="38" height="11" fill="#ff0000" shape-rendering="crispEdges"/>
<text x="1594" y="131" font-size="10.2" fill="#fff" textLength="33" lengthAdjust="spacingAndGlyphs">21539.5</text>
<rect x="1590" y="144" width="38" height="11" fill="#32cd32" shape-rendering="crispEdges"/>
<text x="1594" y="154" font-size="10.2" fill="#fff" textLength="33" lengthAdjust="spacingAndGlyphs">21445.1</text>
<rect x="1590" y="160" width="38" height="11" fill="#000" shape-rendering="crispEdges"/>
<text x="1594" y="170" font-size="10.2" fill="#fff" textLength="33" lengthAdjust="spacingAndGlyphs">21380.0</text>
<rect x="1590" y="186" width="38" height="11" fill="#0000ff" shape-rendering="crispEdges"/>
<text x="1594" y="196" font-size="10.2" fill="#fff" textLength="33" lengthAdjust="spacingAndGlyphs">21272.5</text>
<rect x="1590" y="205" width="38" height="11" fill="#0000ff" shape-rendering="crispEdges"/>
<text x="1594" y="215" font-size="10.2" fill="#fff" textLength="33" lengthAdjust="spacingAndGlyphs">21194.5</text>
<text x="1592.6" y="488" font-size="10.2" fill="#000" textLength="22.5" lengthAdjust="spacingAndGlyphs">169.7</text>
<text x="1592" y="558" font-size="10.2" fill="#000" textLength="18" lengthAdjust="spacingAndGlyphs">0.00</text>
<text x="1592" y="622" font-size="10.2" fill="#000" textLength="31" lengthAdjust="spacingAndGlyphs">-160.24</text>
<text x="1592.6" y="638" font-size="10.2" fill="#000" textLength="14.3" lengthAdjust="spacingAndGlyphs">100</text>
<text x="1591" y="658" font-size="10.2" fill="#000" textLength="10" lengthAdjust="spacingAndGlyphs">80</text>
<text x="1591" y="695" font-size="10.2" fill="#000" textLength="10" lengthAdjust="spacingAndGlyphs">50</text>
<text x="1591" y="740" font-size="10.2" fill="#000" textLength="10" lengthAdjust="spacingAndGlyphs">15</text>
<text x="1592" y="752" font-size="10.2" fill="#000" textLength="5" lengthAdjust="spacingAndGlyphs">0</text>
<g shape-rendering="crispEdges">
<rect x="1" y="756" width="1" height="3" fill="#000" />
<rect x="65" y="756" width="1" height="3" fill="#000" />
<rect x="129" y="756" width="1" height="3" fill="#000" />
<rect x="193" y="756" width="1" height="3" fill="#000" />
<rect x="257" y="756" width="1" height="3" fill="#000" />
<rect x="321" y="756" width="1" height="3" fill="#000" />
<rect x="385" y="756" width="1" height="3" fill="#000" />
<rect x="449" y="756" width="1" height="3" fill="#000" />
<rect x="513" y="756" width="1" height="3" fill="#000" />
<rect x="577" y="756" width="1" height="3" fill="#000" />
<rect x="641" y="756" width="1" height="3" fill="#000" />
<rect x="705" y="756" width="1" height="3" fill="#000" />
<rect x="769" y="756" width="1" height="3" fill="#000" />
<rect x="833" y="756" width="1" height="3" fill="#000" />
<rect x="897" y="756" width="1" height="3" fill="#000" />
<rect x="961" y="756" width="1" height="3" fill="#000" />
<rect x="1025" y="756" width="1" height="3" fill="#000" />
<rect x="1089" y="756" width="1" height="3" fill="#000" />
<rect x="1153" y="756" width="1" height="3" fill="#000" />
<rect x="1217" y="756" width="1" height="3" fill="#000" />
<rect x="1281" y="756" width="1" height="3" fill="#000" />
</g>
<text x="-0.1" y="768" font-size="10.2" fill="#000" textLength="50.4" lengthAdjust="spacingAndGlyphs">28 Jan 2019</text>
<text x="63.9" y="768" font-size="10.2" fill="#000" textLength="52.9" lengthAdjust="spacingAndGlyphs">29 Jan 23:30</text>
<text x="127.9" y="768" font-size="10.2" fill="#000" textLength="52.9" lengthAdjust="spacingAndGlyphs">31 Jan 04:00</text>
<text x="191.9" y="768" font-size="10.2" fill="#000" textLength="50" lengthAdjust="spacingAndGlyphs">1 Feb 14:55</text>
<text x="255.9" y="768" font-size="10.2" fill="#000" textLength="50" lengthAdjust="spacingAndGlyphs">4 Feb 23:30</text>
<text x="319.9" y="768" font-size="10.2" fill="#000" textLength="50" lengthAdjust="spacingAndGlyphs">6 Feb 04:00</text>
<text x="383.9" y="768" font-size="10.2" fill="#000" textLength="50" lengthAdjust="spacingAndGlyphs">7 Feb 14:55</text>
<text x="447.9" y="768" font-size="10.2" fill="#000" textLength="54.9" lengthAdjust="spacingAndGlyphs">10 Feb 23:30</text>
<text x="511.9" y="768" font-size="10.2" fill="#000" textLength="54.9" lengthAdjust="spacingAndGlyphs">12 Feb 04:00</text>
<text x="575.9" y="768" font-size="10.2" fill="#000" textLength="54.9" lengthAdjust="spacingAndGlyphs">13 Feb 14:55</text>
<text x="639.9" y="768" font-size="10.2" fill="#000" textLength="54.9" lengthAdjust="spacingAndGlyphs">14 Feb 23:30</text>
<text x="703.9" y="768" font-size="10.2" fill="#000" textLength="54.9" lengthAdjust="spacingAndGlyphs">18 Feb 04:00</text>
<text x="767.9" y="768" font-size="10.2" fill="#000" textLength="54.9" lengthAdjust="spacingAndGlyphs">19 Feb 14:55</text>
<text x="831.9" y="768" font-size="10.2" fill="#000" textLength="54.9" lengthAdjust="spacingAndGlyphs">20 Feb 23:30</text>
<text x="895.9" y="768" font-size="10.2" fill="#000" textLength="54.9" lengthAdjust="spacingAndGlyphs">22 Feb 04:00</text>
<text x="959.9" y="768" font-size="10.2" fill="#000" textLength="54.9" lengthAdjust="spacingAndGlyphs">25 Feb 14:55</text>
<text x="1023.9" y="768" font-size="10.2" fill="#000" textLength="54.9" lengthAdjust="spacingAndGlyphs">26 Feb 23:30</text>
<text x="1087.9" y="768" font-size="10.2" fill="#000" textLength="54.9" lengthAdjust="spacingAndGlyphs">28 Feb 04:00</text>
<text x="1151.9" y="768" font-size="10.2" fill="#000" textLength="50" lengthAdjust="spacingAndGlyphs">1 Mar 14:55</text>
<text x="1215.9" y="768" font-size="10.2" fill="#000" textLength="50" lengthAdjust="spacingAndGlyphs">4 Mar 23:30</text>
<text x="1279.9" y="768" font-size="10.2" fill="#000" textLength="50" lengthAdjust="spacingAndGlyphs">6 Mar 04:00</text>
<text x="16" y="41" font-size="10.2" fill="#000" textLength="197" lengthAdjust="spacingAndGlyphs">JPN225-,H4 21382.5 21402.5 21340.0 21380.0</text>
<path d="M3.9 40.1L7.55 35.8L11.2 40.1Z" fill="#000"/>
<text x="5.5" y="490" font-size="10.2" fill="#000" textLength="123.5" lengthAdjust="spacingAndGlyphs">MACD(12,26,9) -53.76 -10.80</text>
<text x="5.2" y="640" font-size="10.2" fill="#000" textLength="67.2" lengthAdjust="spacingAndGlyphs">RSI(14) 38.0392</text>
</g>
<defs><linearGradient id="gr1" x1="0" y1="0" x2="0" y2="1"><stop offset="0" stop-color="#f85050"/><stop offset="1" stop-color="#e03030"/></linearGradient><linearGradient id="gr2" x1="0" y1="0" x2="0" y2="1"><stop offset="0" stop-color="#e03030"/><stop offset="1" stop-color="#b00000"/></linearGradient><linearGradient id="gb" x1="0" y1="0" x2="0" y2="1"><stop offset="0" stop-color="#f4f4f4"/><stop offset="1" stop-color="#dedede"/></linearGradient></defs>
<g shape-rendering="crispEdges">
<rect x="2" y="48" width="223" height="66" fill="#fff" />
<rect x="4" y="49" width="52" height="25" fill="url(#gr1)" />
<rect x="171" y="49" width="52" height="25" fill="url(#gr1)" />
<rect x="4" y="73" width="109" height="40" fill="url(#gr2)" />
<rect x="115" y="73" width="108" height="40" fill="url(#gr2)" />
<rect x="4" y="49" width="52" height="1" fill="#c81818" />
<rect x="4" y="49" width="1" height="64" fill="#c81818" />
<rect x="171" y="49" width="52" height="1" fill="#c81818" />
<rect x="222" y="49" width="1" height="64" fill="#b00000" />
<rect x="56" y="73" width="57" height="1" fill="#b81010" />
<rect x="115" y="73" width="56" height="1" fill="#b81010" />
<rect x="112" y="73" width="1" height="40" fill="#b00808" />
<rect x="115" y="73" width="1" height="40" fill="#c81818" />
<rect x="4" y="112" width="109" height="1" fill="#a00000" />
<rect x="115" y="112" width="108" height="1" fill="#a00000" />
<rect x="8" y="73" width="44" height="1" fill="#a80808" />
<rect x="175" y="73" width="44" height="1" fill="#a80808" />
<rect x="8" y="74" width="44" height="1" fill="#f06060" />
<rect x="175" y="74" width="44" height="1" fill="#f06060" />
<rect x="58" y="50" width="111" height="21" fill="#a8a8b8" />
<rect x="59" y="51" width="20" height="19" fill="url(#gb)" />
<rect x="80" y="51" width="67" height="19" fill="#fff" />
<rect x="148" y="51" width="20" height="19" fill="url(#gb)" />
</g>
<path d="M66 59h6l-3 3.2z" fill="#000"/><path d="M155 62h6l-3-3.2z" fill="#000"/>
<g font-family="Liberation Sans, sans-serif" fill="#fff">
<text x="16.3" y="65" font-size="12" fill="#fff" textLength="25" lengthAdjust="spacingAndGlyphs" >SELL</text>
<text x="184.8" y="65" font-size="12" fill="#fff" textLength="22.7" lengthAdjust="spacingAndGlyphs" >BUY</text>
<text x="20" y="103.5" font-size="11.5" fill="#fff" textLength="35" lengthAdjust="spacingAndGlyphs" font-weight="bold" >21378</text>
<text x="130" y="103.5" font-size="11.5" fill="#fff" textLength="35" lengthAdjust="spacingAndGlyphs" font-weight="bold" >21406</text>
<text x="56.6" y="104" font-size="33" fill="#fff">.5</text>
<text x="167.6" y="104" font-size="33" fill="#fff">.5</text>
<text x="143.8" y="64" font-size="12" fill="#000" text-anchor="end" >1.00</text>
</g>
<g shape-rendering="crispEdges">
<rect x="0" y="0" width="1628" height="24" fill="#f0f0f0" />
<rect x="0" y="24" width="1628" height="1" fill="#dcdcdc" />
<rect x="0" y="25" width="1628" height="1" fill="#a0a0a0" />
<rect x="0" y="26" width="1628" height="1" fill="#696969" />
<rect x="0" y="27" width="1628" height="2" fill="#fff" />
<rect x="185" y="0" width="1" height="25" fill="#a0a0a0" />
<rect x="186" y="0" width="1" height="25" fill="#fff" />
<rect x="553" y="0" width="1" height="25" fill="#a0a0a0" />
<rect x="554" y="0" width="1" height="25" fill="#fff" />
<rect x="859" y="0" width="1" height="25" fill="#a0a0a0" />
<rect x="860" y="0" width="1" height="25" fill="#fff" />
<rect x="1120" y="0" width="1" height="25" fill="#a0a0a0" />
<rect x="1121" y="0" width="1" height="25" fill="#fff" />
<rect x="280" y="2" width="1" height="21" fill="#a0a0a0" />
<rect x="370" y="2" width="1" height="21" fill="#a0a0a0" />
<rect x="432" y="2" width="1" height="21" fill="#a0a0a0" />
<rect x="620" y="2" width="1" height="21" fill="#a0a0a0" />
<rect x="189" y="3" width="3" height="1" fill="#a0a0a0" />
<rect x="189" y="5" width="3" height="1" fill="#a0a0a0" />
<rect x="189" y="7" width="3" height="1" fill="#a0a0a0" />
<rect x="189" y="9" width="3" height="1" fill="#a0a0a0" />
<rect x="189" y="11" width="3" height="1" fill="#a0a0a0" />
<rect x="189" y="13" width="3" height="1" fill="#a0a0a0" />
<rect x="189" y="15" width="3" height="1" fill="#a0a0a0" />
<rect x="189" y="17" width="3" height="1" fill="#a0a0a0" />
<rect x="189" y="19" width="3" height="1" fill="#a0a0a0" />
<rect x="189" y="21" width="3" height="1" fill="#a0a0a0" />
<rect x="557" y="3" width="3" height="1" fill="#a0a0a0" />
<rect x="557" y="5" width="3" height="1" fill="#a0a0a0" />
<rect x="557" y="7" width="3" height="1" fill="#a0a0a0" />
<rect x="557" y="9" width="3" height="1" fill="#a0a0a0" />
<rect x="557" y="11" width="3" height="1" fill="#a0a0a0" />
<rect x="557" y="13" width="3" height="1" fill="#a0a0a0" />
<rect x="557" y="15" width="3" height="1" fill="#a0a0a0" />
<rect x="557" y="17" width="3" height="1" fill="#a0a0a0" />
<rect x="557" y="19" width="3" height="1" fill="#a0a0a0" />
<rect x="557" y="21" width="3" height="1" fill="#a0a0a0" />
<rect x="863" y="3" width="3" height="1" fill="#a0a0a0" />
<rect x="863" y="5" width="3" height="1" fill="#a0a0a0" />
<rect x="863" y="7" width="3" height="1" fill="#a0a0a0" />
<rect x="863" y="9" width="3" height="1" fill="#a0a0a0" />
<rect x="863" y="11" width="3" height="1" fill="#a0a0a0" />
<rect x="863" y="13" width="3" height="1" fill="#a0a0a0" />
<rect x="863" y="15" width="3" height="1" fill="#a0a0a0" />
<rect x="863" y="17" width="3" height="1" fill="#a0a0a0" />
<rect x="863" y="19" width="3" height="1" fill="#a0a0a0" />
<rect x="863" y="21" width="3" height="1" fill="#a0a0a0" />
<rect x="223" y="1" width="25" height="22" fill="#f8f8f8" />
<rect x="223" y="1" width="25" height="1" fill="#a0a0a0" />
<rect x="223" y="1" width="1" height="22" fill="#a0a0a0" />
<rect x="247" y="2" width="1" height="21" fill="#fff" />
<rect x="224" y="22" width="24" height="1" fill="#fff" />
<rect x="375" y="1" width="25" height="22" fill="#f8f8f8" />
<rect x="375" y="1" width="25" height="1" fill="#a0a0a0" />
<rect x="375" y="1" width="1" height="22" fill="#a0a0a0" />
<rect x="399" y="2" width="1" height="21" fill="#fff" />
<rect x="376" y="22" width="24" height="1" fill="#fff" />
<rect x="403" y="1" width="25" height="22" fill="#f8f8f8" />
<rect x="403" y="1" width="25" height="1" fill="#a0a0a0" />
<rect x="403" y="1" width="1" height="22" fill="#a0a0a0" />
<rect x="427" y="2" width="1" height="21" fill="#fff" />
<rect x="404" y="22" width="24" height="1" fill="#fff" />
<rect x="563" y="1" width="25" height="22" fill="#f8f8f8" />
<rect x="563" y="1" width="25" height="1" fill="#a0a0a0" />
<rect x="563" y="1" width="1" height="22" fill="#a0a0a0" />
<rect x="587" y="2" width="1" height="21" fill="#fff" />
<rect x="564" y="22" width="24" height="1" fill="#fff" />
<rect x="1009" y="1" width="25" height="22" fill="#f8f8f8" />
<rect x="1009" y="1" width="25" height="1" fill="#a0a0a0" />
<rect x="1009" y="1" width="1" height="22" fill="#a0a0a0" />
<rect x="1033" y="2" width="1" height="21" fill="#fff" />
<rect x="1010" y="22" width="24" height="1" fill="#fff" />
</g>
<defs><linearGradient id="gold" x1="0" y1="0" x2="1" y2="1"><stop offset="0" stop-color="#ffe870"/><stop offset="0.5" stop-color="#e8b820"/><stop offset="1" stop-color="#b07808"/></linearGradient><linearGradient id="lens" x1="0" y1="0" x2="0" y2="1"><stop offset="0" stop-color="#f0faff"/><stop offset="1" stop-color="#b8e0f8"/></linearGradient><linearGradient id="grn" x1="0" y1="0" x2="1" y2="0"><stop offset="0" stop-color="#20d020"/><stop offset="0.5" stop-color="#90ff90"/><stop offset="1" stop-color="#10b010"/></linearGradient><linearGradient id="grn2" x1="0" y1="0" x2="0" y2="1"><stop offset="0" stop-color="#60e860"/><stop offset="1" stop-color="#008800"/></linearGradient><linearGradient id="blu" x1="0" y1="0" x2="0" y2="1"><stop offset="0" stop-color="#1840c0"/><stop offset="1" stop-color="#3880f0"/></linearGradient><linearGradient id="grt" x1="0" y1="0" x2="0" y2="1"><stop offset="0" stop-color="#309818"/><stop offset="1" stop-color="#58c030"/></linearGradient><radialGradient id="clk" cx="0.35" cy="0.3" r="0.8"><stop offset="0" stop-color="#3098ff"/><stop offset="0.6" stop-color="#0868d8"/><stop offset="1" stop-color="#003c98"/></radialGradient><linearGradient id="srv" x1="0" y1="0" x2="1" y2="0"><stop offset="0" stop-color="#1878e8"/><stop offset="1" stop-color="#68c0ff"/></linearGradient><linearGradient id="cld" x1="0" y1="0" x2="0" y2="1"><stop offset="0" stop-color="#ffffff"/><stop offset="1" stop-color="#b4c0d8"/></linearGradient><linearGradient id="hat" x1="0" y1="0" x2="0" y2="1"><stop offset="0" stop-color="#a0d8f4"/><stop offset="1" stop-color="#48a8dc"/></linearGradient><linearGradient id="yel" x1="0" y1="0" x2="1" y2="1"><stop offset="0" stop-color="#fff080"/><stop offset="1" stop-color="#e0a800"/></linearGradient></defs>
<text x="131" y="16" font-size="12" fill="#000" font-family="Liberation Sans, Noto Sans CJK SC, sans-serif">自动交易</text>
<text x="2" y="16" font-size="12" fill="#000" font-family="Liberation Sans, Noto Sans CJK SC, sans-serif">单</text>
<rect x="0" y="7" width="2" height="1" fill="#000" shape-rendering="crispEdges"/>
<defs><linearGradient id="gface" x1="0" y1="0" x2="1" y2="0.35"><stop offset="0" stop-color="#d89408"/><stop offset="0.45" stop-color="#ecb818"/><stop offset="0.85" stop-color="#ffe060"/><stop offset="1" stop-color="#e8b830"/></linearGradient><linearGradient id="gband" x1="0" y1="0" x2="0.4" y2="1"><stop offset="0" stop-color="#f8e090"/><stop offset="1" stop-color="#b87c10"/></linearGradient></defs>
<path d="M31.3 5.9L41.4 11.5L41.9 15L34 20.9L25.9 15.3L26.3 14.2L29.9 10.5Z" fill="#9c6208"/><path d="M34.2 20L41.2 14.8L40.9 12.6L34.4 17.6Z" fill="#c8b060"/><path d="M26.6 14.9L34.2 20L34.4 17.7L27.1 13.7Z" fill="url(#gband)"/><path d="M31.9 6.9L40.6 11.8L34.5 17.4L27.3 13.5C28.6 12.4 30.2 11.2 30.6 10.4Z" fill="url(#gface)"/><path d="M35 19.4L41 15" stroke="#a07818" stroke-width="0.5"/>
<path d="M55.9 6.6L60 5.2L67.1 6.4V16H55.9Z" fill="#1078e8"/><path d="M55.9 6.6L59.9 8V16H55.9Z" fill="#1890f4"/><path d="M59.9 8L67.1 6.5V16H59.9Z" fill="#38a8ff"/><path d="M55.9 6.6L59.9 8L67.1 6.5M59.9 8V15" fill="none" stroke="#e0f4ff" stroke-width="0.6"/><path d="M61.5 10.4L65.5 9.6" stroke="#f0faff" stroke-width="1.1"/><path d="M61 12.2H66.6" stroke="#90d0ff" stroke-width="0.6"/><path d="M57 20.4h10.3a2.6 2.6 0 0 0 .5-5.2a2.5 2.5 0 0 0-3.7-1.3a3.3 3.3 0 0 0-5.8.8a2.85 2.85 0 0 0-1.3 5.7z" fill="url(#cld)" stroke="#4060a0" stroke-width="1.1"/>
<defs><radialGradient id="rad" cx="0.5" cy="0.5" r="0.5"><stop offset="0" stop-color="#ffffff"/><stop offset="1" stop-color="#f4f4ec"/></radialGradient><linearGradient id="radg" x1="0" y1="0" x2="1" y2="1"><stop offset="0" stop-color="#d8ead8"/><stop offset="1" stop-color="#58b058"/></linearGradient></defs>
<circle cx="89.9" cy="12.9" r="8" fill="url(#rad)"/><path d="M91.5 5.1A8 8 0 0 1 90.6 20.9L90.2 12.9Z" fill="url(#radg)" opacity="0.8"/><g fill="none"><circle cx="89.9" cy="12.9" r="7.5" stroke="#7890d8" stroke-width="1" opacity="0.75"/><path d="M90.6 20.4A7.5 7.5 0 0 1 83 16" stroke="#f4f4ec" stroke-width="1.2" opacity="0.7"/><path d="M91.5 5.5A7.5 7.5 0 0 1 92 20" stroke="#508868" stroke-width="1" opacity="0.8"/><circle cx="89.9" cy="12.9" r="4.7" stroke="#6080d8" stroke-width="1" opacity="0.8"/><path d="M90.8 8.3A4.7 4.7 0 0 1 91.5 17.3" stroke="#70a888" stroke-width="1" opacity="0.9"/></g><circle cx="89.7" cy="12.5" r="2" fill="#2050d0"/><path d="M90.6 13V20.8" stroke="#20a020" stroke-width="1.3"/>
<path d="M109 11.8L124.8 11.3L124.4 13L117.4 21L115.6 20.6Z" fill="url(#yel)" stroke="#d09010" stroke-width="0.6"/><path d="M108.9 9.6C110.5 7.6 112.5 8.4 113.3 8.4C113.4 6 114.8 4.8 116.9 4.8S120.3 6 120.5 8.2C122 8 124 7.4 125 8.8C124.4 10.6 121.5 12 116.8 12S109.6 11.2 108.9 9.6Z" fill="url(#hat)" stroke="#1878a8" stroke-width="0.7"/><path d="M113.4 8.6C114.6 9.6 119.2 9.6 120.4 8.4" fill="none" stroke="#2888b8" stroke-width="0.6"/><circle cx="121.4" cy="16.9" r="4.1" fill="#e42000"/><path d="M117.8 18.4A4 4 0 0 0 125 18.4" fill="none" stroke="#ff5030" stroke-width="0.8"/><rect x="119.9" y="15.4" width="3.1" height="2.9" fill="#fff"/>
<g shape-rendering="crispEdges" fill="#484848"><rect x="203" y="7" width="1" height="14"/><rect x="201" y="18" width="14" height="1"/><rect x="202" y="8" width="3" height="1"/><rect x="213" y="17" width="1" height="3"/></g>
<g shape-rendering="crispEdges" fill="#008000"><rect x="209" y="8" width="1" height="9"/><rect x="208.6" y="8" width="1.4" height="9" opacity="0.5"/><rect x="210" y="9" width="2" height="1"/><rect x="207" y="15" width="2" height="1"/></g>
<g shape-rendering="crispEdges" fill="#484848"><rect x="231" y="7" width="1" height="14"/><rect x="229" y="18" width="14" height="1"/><rect x="230" y="8" width="3" height="1"/><rect x="241" y="17" width="1" height="3"/></g>
<rect x="237" y="5" width="1" height="12" fill="#008000" shape-rendering="crispEdges"/><g shape-rendering="crispEdges"><rect x="235" y="8" width="5" height="7" fill="#00a800"/><rect x="236" y="9" width="3" height="5" fill="#58f058"/><rect x="237" y="9" width="1" height="5" fill="#98ff98"/></g>
<g shape-rendering="crispEdges" fill="#484848"><rect x="259" y="7" width="1" height="14"/><rect x="257" y="18" width="14" height="1"/><rect x="258" y="8" width="3" height="1"/><rect x="269" y="17" width="1" height="3"/></g>
<path d="M258.3 15.6C261 14 262.5 10.2 264.6 10.2S268 13.6 270.5 14.2" fill="none" stroke="#109010" stroke-width="1.2"/>
<path d="M299.09999999999997 15.2L304.5 20.6" stroke="#907008" stroke-width="3.4" stroke-linecap="butt"/><path d="M299.29999999999995 15.4L304.09999999999997 20.2" stroke="#f0d838" stroke-width="1.8"/><circle cx="294.9" cy="10.8" r="5.2" fill="url(#lens)" stroke="#2878c8" stroke-width="1.1"/>
<rect x="291.9" y="10.1" width="6" height="1.5" fill="#3080b0"/>
<rect x="294.15" y="7.8" width="1.5" height="6" fill="#3080b0"/>
<path d="M327.09999999999997 15.2L332.5 20.6" stroke="#907008" stroke-width="3.4" stroke-linecap="butt"/><path d="M327.29999999999995 15.4L332.09999999999997 20.2" stroke="#f0d838" stroke-width="1.8"/><circle cx="322.9" cy="10.8" r="5.2" fill="url(#lens)" stroke="#2878c8" stroke-width="1.1"/>
<rect x="319.9" y="10.1" width="6" height="1.5" fill="#3080b0"/>
<rect x="345" y="5" width="8" height="8" fill="url(#grt)"/><path d="M346.2 12.2V8.6a1 1 0 0 1 1-1H350.8a1 1 0 0 1 1 1V12.2Z" fill="#fff"/><rect x="347.3" y="9.2" width="3.4" height="0.9" fill="#90d070"/><rect x="346" y="5.9" width="1" height="0.9" fill="#fff" opacity="0.9"/>
<rect x="353" y="5" width="8" height="8" fill="url(#blu)"/><path d="M354.2 12.2V8.6a1 1 0 0 1 1-1H358.8a1 1 0 0 1 1 1V12.2Z" fill="#fff"/><rect x="355.3" y="9.2" width="3.4" height="0.9" fill="#80a8f0"/><rect x="354" y="5.9" width="1" height="0.9" fill="#fff" opacity="0.9"/>
<rect x="345" y="13" width="8" height="8" fill="url(#blu)"/><path d="M346.2 20.2V16.6a1 1 0 0 1 1-1H350.8a1 1 0 0 1 1 1V20.2Z" fill="#fff"/><rect x="347.3" y="17.2" width="3.4" height="0.9" fill="#80a8f0"/><rect x="346" y="13.9" width="1" height="0.9" fill="#fff" opacity="0.9"/>
<rect x="353" y="13" width="8" height="8" fill="url(#grt)"/><path d="M354.2 20.2V16.6a1 1 0 0 1 1-1H358.8a1 1 0 0 1 1 1V20.2Z" fill="#fff"/><rect x="355.3" y="17.2" width="3.4" height="0.9" fill="#90d070"/><rect x="354" y="13.9" width="1" height="0.9" fill="#fff" opacity="0.9"/>
<g shape-rendering="crispEdges" fill="#484848"><rect x="383" y="7" width="1" height="14"/><rect x="381" y="18" width="14" height="1"/><rect x="382" y="8" width="3" height="1"/><rect x="393" y="17" width="1" height="3"/></g>
<path d="M388.3 9.6L392.2 12.6L388.3 15.8Z" fill="#80e880" stroke="#00a000" stroke-width="0.9"/>
<g shape-rendering="crispEdges" fill="#484848"><rect x="411" y="7" width="1" height="14"/><rect x="409" y="18" width="14" height="1"/><rect x="410" y="8" width="3" height="1"/><rect x="421" y="17" width="1" height="3"/></g>
<rect x="417" y="7" width="1" height="10" fill="#1878b0" shape-rendering="crispEdges"/><rect x="417.5" y="7" width="0.6" height="10" fill="#1878b0" opacity="0.5"/><path d="M419 12.5L421.6 10.3V11.9H423.4V13.1H421.6V14.7Z" fill="#e04000"/>
<path d="M443.5 5.3H451L454 8.3V17.8H443.5a1 1 0 0 1-1-1V6.3a1 1 0 0 1 1-1Z" fill="#fcfcfc" stroke="#787878" stroke-width="0.9"/><path d="M451 5.3V8.3H454" fill="#e0e0e0" stroke="#909090" stroke-width="0.6"/><path d="M446.3 8.5c-1 0-1.2.5-1.2 1.5v4.5" fill="none" stroke="#503820" stroke-width="1"/><path d="M444.6 11h2.2" stroke="#503820" stroke-width="0.9"/><path d="M450.3 11.2h3.7v3.9h3.9v3.6h-3.9v3.9h-3.7v-3.9h-3.9v-3.6h3.9z" fill="url(#grn2)" stroke="#00a000" stroke-width="0.7"/><path d="M450.9 11.9h2.4v4h4v1.2" fill="none" stroke="#a0ffa0" stroke-width="0.7"/>
<path d="M464 11.6h5.4l-2.7 3.2z" fill="#000"/>
<path d="M503 11.6h5.4l-2.7 3.2z" fill="#000"/>
<path d="M542 11.6h5.4l-2.7 3.2z" fill="#000"/>
<path d="M848 11.6h5.4l-2.7 3.2z" fill="#000"/>
<circle cx="487.9" cy="12.8" r="8" fill="url(#clk)"/><circle cx="487.9" cy="12.8" r="5.45" fill="#fff"/><circle cx="487.9" cy="12.8" r="4.7" fill="none" stroke="#8898a8" stroke-width="1" stroke-dasharray="0.6 1.86"/><path d="M487.5 9V12.9H490.8" fill="none" stroke="#202020" stroke-width="1"/><rect x="487" y="15.2" width="2" height="0.8" fill="#60b0ff"/>
<rect x="519.5" y="6.5" width="15" height="13" fill="#fff" stroke="#3070d0" stroke-width="1"/><rect x="520" y="7" width="14" height="2" fill="#4088e0" shape-rendering="crispEdges"/><rect x="521" y="7" width="6" height="1" fill="#a8d0ff" shape-rendering="crispEdges"/><rect x="520" y="13" width="14" height="1" fill="#4080d8" shape-rendering="crispEdges"/><path d="M521.5 12.5h1.6l1.4-1.2h1.5l1.3-.9 1.5.9h1.7l1.5-1.2h.8" fill="none" stroke="#a02000" stroke-width="1.1"/><path d="M522 17.6h1.5l1.2-1h1.5l1.2.9 1.8-2 1.4.2 1.6 1.8" fill="none" stroke="#108820" stroke-width="1.1"/>
<path d="M571.2 5.8V18.6L574.2 15.9L576.4 20.6L578.1 19.8L575.9 15.2H579.8Z" fill="#484848"/>
<g shape-rendering="crispEdges" fill="#484848"><rect x="596" y="13" width="6" height="1"/><rect x="605" y="13" width="6" height="1"/><rect x="603" y="6" width="1" height="6"/><rect x="603" y="15" width="1" height="6"/><rect x="603" y="13" width="1" height="1" opacity="0.6"/></g>
<g shape-rendering="crispEdges" fill="#484848"><rect x="637" y="7" width="1" height="13"/><rect x="660" y="13" width="12" height="1"/></g>
<path d="M688 19.8L700 7.8" stroke="#484848" stroke-width="1.1"/>
<g stroke="#484848" stroke-width="0.9" fill="none"><path d="M713.6 14.6L722 6.8"/><path d="M714.5 18.6L726.5 8.4"/><path d="M718.6 19.8L727.8 12"/><path d="M716 11.5l1.4 7M719.4 9.5l1.4 7M723 7l1.3 6.5M725.5 5l1.2 6"/></g>
<text x="724.8" y="21.6" font-size="6.4" font-weight="bold" fill="#303030" font-family="Liberation Sans, sans-serif">E</text>
<g stroke="#484848" stroke-width="1" stroke-dasharray="1 1" shape-rendering="crispEdges"><path d="M743 6.5H757M743 9.5H757M743 13.5H757M743 17.5H752"/></g>
<text x="752.8" y="21.6" font-size="6.4" font-weight="bold" fill="#303030" font-family="Liberation Sans, sans-serif">F</text>
<text x="773.6" y="18" font-size="12.4" fill="#505050" stroke="#505050" stroke-width="0.3" font-family="Liberation Sans, sans-serif">A</text>
<rect x="800.5" y="7.5" width="11" height="12" fill="none" stroke="#484848" stroke-width="1" stroke-dasharray="1 1" shape-rendering="crispEdges"/>
<text x="802.4" y="18" font-size="11.5" fill="#505050" stroke="#505050" stroke-width="0.3" font-family="Liberation Sans, sans-serif">T</text>
<path d="M830.6 7L834 10.5H827.2Z" fill="#484848"/><path d="M837.7 19.6L841.1 16.1H834.3Z" fill="#484848"/><path d="M829.6 14.6L831.6 16.6L836 11.6" fill="none" stroke="#484848" stroke-width="1.3"/>
<text x="874" y="17" font-size="9.9" fill="#282828" font-family="Liberation Sans, sans-serif" textLength="13.6" lengthAdjust="spacingAndGlyphs">M1</text>
<text x="902.1" y="17" font-size="9.9" fill="#282828" font-family="Liberation Sans, sans-serif" textLength="13.5" lengthAdjust="spacingAndGlyphs">M5</text>
<text x="927.9" y="17" font-size="9.9" fill="#282828" font-family="Liberation Sans, sans-serif" textLength="18.7" lengthAdjust="spacingAndGlyphs">M15</text>
<text x="956.1" y="17" font-size="9.9" fill="#282828" font-family="Liberation Sans, sans-serif" textLength="18.5" lengthAdjust="spacingAndGlyphs">M30</text>
<text x="986.9" y="17" font-size="9.9" fill="#282828" font-family="Liberation Sans, sans-serif" textLength="13.3" lengthAdjust="spacingAndGlyphs">H1</text>
<text x="1013.8" y="17" font-size="9.9" fill="#282828" font-family="Liberation Sans, sans-serif" textLength="14.1" lengthAdjust="spacingAndGlyphs">H4</text>
<text x="1042.4" y="17" font-size="9.9" fill="#282828" font-family="Liberation Sans, sans-serif" textLength="13.7" lengthAdjust="spacingAndGlyphs">D1</text>
<text x="1070.4" y="17" font-size="9.9" fill="#282828" font-family="Liberation Sans, sans-serif" textLength="15.7" lengthAdjust="spacingAndGlyphs">W1</text>
<text x="1096.9" y="17" font-size="9.9" fill="#282828" font-family="Liberation Sans, sans-serif" textLength="16.3" lengthAdjust="spacingAndGlyphs">MN</text>
<path d="M1588.2 13.2L1583 18.4" stroke="#2858c8" stroke-width="2.4" stroke-linecap="round"/><circle cx="1591" cy="10.3" r="3.9" fill="#f4f8ff" stroke="#2858c8" stroke-width="1.2"/>
<defs><linearGradient id="bub" x1="0" y1="0" x2="0" y2="1"><stop offset="0" stop-color="#ffffff"/><stop offset="1" stop-color="#c8c8d4"/></linearGradient></defs><path d="M1618 14.5l2.5 1.8-.3-2.2z" fill="#909090"/><ellipse cx="1623.5" cy="9.7" rx="6.6" ry="4.9" fill="url(#bub)" stroke="#a0a0a0" stroke-width="0.8"/><path d="M1611.5 17l.4 2.6 2.2-2z" fill="#808080"/><ellipse cx="1614.3" cy="13.9" rx="5" ry="3.9" fill="url(#bub)" stroke="#989898" stroke-width="0.8"/>
</svg></body></html>
